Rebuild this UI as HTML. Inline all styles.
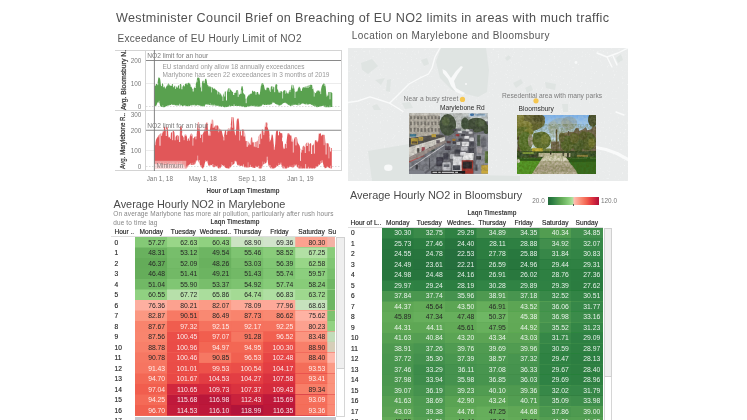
<!DOCTYPE html>
<html><head><meta charset="utf-8"><title>Westminister Council Brief</title>
<style>
html,body{margin:0;padding:0;background:#fff;}
body{width:747px;height:420px;overflow:hidden;position:relative;font-family:"Liberation Sans",sans-serif;}
#root{position:absolute;left:0;top:0;width:747px;height:420px;overflow:hidden;will-change:transform;}
.c{position:absolute;text-align:right;font-size:6.5px;box-sizing:border-box;padding-right:2.3px;white-space:nowrap;overflow:hidden;}
svg{position:absolute;overflow:visible;}
</style></head><body><div id="root">
<div style="position:absolute;top:11px;height:14px;font-size:12.6px;line-height:14px;color:#505050;white-space:nowrap;letter-spacing:0.35px;left:116.00px;">Westminister Council Brief on Breaching of EU NO2 limits in areas with much traffic</div>
<div style="position:absolute;top:33px;height:11px;font-size:10px;line-height:11px;color:#555;white-space:nowrap;letter-spacing:0.32px;left:117.40px;">Exceedance of EU Hourly Limit of NO2</div>
<div style="position:absolute;top:30px;height:11px;font-size:10px;line-height:11px;color:#555;white-space:nowrap;letter-spacing:0.44px;left:351.80px;">Location on Marylebone and Bloomsbury</div>
<svg width="747" height="420" viewBox="0 0 747 420" style="left:0;top:0;">
<g stroke="#d4d4d4" stroke-width="1" fill="none">
<line x1="115" y1="50.5" x2="341" y2="50.5"/>
<line x1="115" y1="110.5" x2="341" y2="110.5"/>
<line x1="115" y1="170.5" x2="341" y2="170.5"/>
<line x1="145.5" y1="50" x2="145.5" y2="171"/>
<line x1="341.5" y1="50" x2="341.5" y2="171"/>
</g>
<g stroke="#ececec" stroke-width="1">
<line x1="146" y1="83.5" x2="341" y2="83.5"/>
<line x1="146" y1="150.5" x2="341" y2="150.5"/>
</g>
<g stroke="#dcdcdc" stroke-width="1" stroke-dasharray="1.5,1.5">
<line x1="146" y1="106.5" x2="341" y2="106.5"/>
<line x1="146" y1="166.5" x2="341" y2="166.5"/>
</g>
<polygon points="154.4,86.5 154.9,85.7 155.4,84.8 155.9,84.1 156.4,84.1 156.9,84.1 157.4,84.5 157.9,80.4 158.4,77.4 158.9,77.4 159.4,77.4 159.9,77.8 160.4,80.5 160.9,85.0 161.4,84.2 161.9,83.4 162.4,83.4 162.9,83.4 163.4,84.4 163.9,85.4 164.4,86.4 164.9,87.4 165.4,87.4 165.9,87.4 166.4,86.4 166.9,85.4 167.4,84.4 167.9,83.4 168.4,83.4 168.9,83.4 169.4,84.2 169.9,85.1 170.4,85.9 170.9,85.4 171.4,84.7 171.9,84.1 172.4,84.1 172.9,84.1 173.4,85.6 173.9,86.7 174.4,85.7 174.9,85.7 175.4,85.7 175.9,85.8 176.4,86.5 177.0,87.2 177.5,86.8 178.0,86.1 178.5,85.6 179.0,85.1 179.5,84.6 180.0,84.1 180.5,84.1 181.0,84.1 181.5,85.5 182.0,87.0 182.5,86.5 183.0,85.9 183.5,85.3 184.0,84.7 184.5,84.2 185.0,84.0 185.5,83.8 186.0,83.6 186.5,83.5 187.0,83.3 187.5,83.1 188.0,83.0 188.5,82.8 189.0,82.8 189.5,82.8 190.0,83.4 190.5,84.6 191.0,85.8 191.5,86.9 192.0,88.0 192.5,89.0 193.0,89.1 193.5,88.6 194.0,87.9 194.5,87.2 195.0,86.6 195.5,85.5 196.0,83.4 196.5,81.2 197.0,79.0 197.5,77.4 198.0,77.4 198.5,77.4 199.0,77.7 199.5,77.9 200.0,81.7 200.5,88.1 201.0,87.0 201.5,85.6 202.0,83.3 202.5,81.0 203.0,80.7 203.5,80.7 204.0,80.7 204.5,81.6 205.0,79.6 205.5,78.8 206.0,78.8 206.5,78.8 207.0,82.4 207.5,84.9 208.0,85.2 208.5,85.6 209.0,86.0 209.5,86.2 210.0,86.4 210.5,86.5 211.0,86.7 211.5,86.9 212.0,87.2 212.5,87.5 213.0,87.7 213.5,88.0 214.0,88.2 214.5,88.5 215.0,88.7 215.5,89.2 216.0,89.7 216.5,90.2 217.0,90.7 217.5,91.0 218.0,91.4 218.5,91.7 219.0,92.0 219.5,92.5 220.0,93.0 220.5,93.5 221.0,94.0 221.6,95.5 222.1,97.3 222.6,96.3 223.1,95.1 223.6,93.9 224.1,92.7 224.6,91.4 225.1,91.4 225.6,91.4 226.1,91.6 226.6,93.3 227.1,92.1 227.6,90.3 228.1,88.4 228.6,88.3 229.1,88.3 229.6,88.3 230.1,88.5 230.6,88.9 231.1,89.9 231.6,90.9 232.1,91.6 232.6,91.9 233.1,92.2 233.6,92.6 234.1,92.8 234.6,93.0 235.1,93.0 235.6,92.0 236.1,91.0 236.6,90.0 237.1,90.0 237.6,90.0 238.1,90.4 238.6,92.6 239.1,94.8 239.6,94.5 240.1,94.2 240.6,91.8 241.1,88.8 241.6,86.3 242.1,86.3 242.6,86.3 243.1,89.3 243.6,92.3 244.1,94.2 244.6,94.4 245.1,94.6 245.6,98.8 246.1,98.8 246.6,98.6 247.1,97.6 247.6,96.6 248.1,95.6 248.6,94.7 249.1,94.6 249.6,94.4 250.1,94.2 250.6,93.9 251.1,92.6 251.6,91.4 252.1,90.8 252.6,90.8 253.1,90.8 253.6,91.0 254.1,91.2 254.6,91.3 255.1,91.6 255.6,91.9 256.1,92.3 256.6,92.4 257.1,92.1 257.6,92.1 258.1,92.1 258.6,93.3 259.1,94.8 259.6,94.5 260.1,92.1 260.6,88.1 261.1,84.1 261.6,83.2 262.1,82.9 262.6,82.9 263.1,82.9 263.6,83.1 264.1,85.9 264.6,88.6 265.1,90.2 265.7,89.7 266.2,88.5 266.7,87.4 267.2,87.4 267.7,87.4 268.2,87.4 268.7,87.4 269.2,88.6 269.7,91.1 270.2,89.2 270.7,86.7 271.2,86.5 271.7,86.2 272.2,86.2 272.7,86.2 273.2,86.4 273.7,87.2 274.2,87.6 274.7,87.2 275.2,85.7 275.7,84.2 276.2,84.2 276.7,84.2 277.2,84.7 277.7,87.7 278.2,90.7 278.7,92.4 279.2,93.1 279.7,91.6 280.2,91.0 280.7,91.0 281.2,91.0 281.7,91.5 282.2,92.0 282.7,92.0 283.2,91.3 283.7,90.5 284.2,90.2 284.7,90.2 285.2,90.2 285.7,90.4 286.2,90.7 286.7,91.5 287.2,92.5 287.7,93.5 288.2,94.0 288.7,92.3 289.2,90.6 289.7,90.1 290.2,90.1 290.7,89.9 291.2,87.1 291.7,84.8 292.2,84.8 292.7,84.8 293.2,85.1 293.7,85.5 294.2,88.0 294.7,90.5 295.2,91.5 295.7,92.3 296.2,92.0 296.7,91.2 297.2,90.3 297.7,89.2 298.2,88.0 298.7,86.8 299.2,86.8 299.7,86.8 300.2,88.0 300.7,89.3 301.2,90.2 301.7,89.9 302.2,88.7 302.7,87.4 303.2,87.2 303.7,87.1 304.2,86.9 304.7,86.7 305.2,86.6 305.7,86.4 306.2,86.2 306.7,86.1 307.2,85.9 307.7,85.7 308.2,85.6 308.7,85.4 309.2,85.1 309.7,84.9 310.3,84.8 310.8,84.8 311.3,84.8 311.8,85.1 312.3,85.3 312.8,86.8 313.3,89.1 313.8,91.3 314.3,91.9 314.8,92.4 315.3,92.9 315.8,93.3 316.3,92.1 316.8,90.8 317.3,90.5 317.8,90.3 318.3,90.3 318.8,90.3 319.3,90.5 319.8,92.0 320.3,91.7 320.8,90.2 321.3,88.2 321.8,86.2 322.3,84.6 322.8,84.1 323.3,83.6 323.8,83.6 324.3,83.6 324.8,83.8 325.3,84.4 325.8,87.7 326.3,94.1 326.8,97.1 327.3,96.0 327.8,93.8 328.3,92.1 328.8,92.1 329.3,92.1 329.8,92.1 330.3,92.1 330.8,92.1 331.3,92.2 331.8,92.7 332.3,93.2 332.3,106.8 331.8,106.9 331.3,107.0 330.8,107.1 330.3,107.2 329.8,107.3 329.3,107.3 328.8,107.3 328.3,107.3 327.8,107.3 327.3,107.3 326.8,107.3 326.3,107.3 325.8,107.3 325.3,107.3 324.8,107.3 324.3,106.6 323.8,106.0 323.3,105.8 322.8,105.9 322.3,106.0 321.8,106.1 321.3,106.2 320.8,106.3 320.3,106.4 319.8,106.6 319.3,106.8 318.8,107.0 318.3,107.1 317.8,107.3 317.3,107.3 316.8,107.3 316.3,107.1 315.8,106.9 315.3,106.7 314.8,106.4 314.3,106.2 313.8,106.0 313.3,105.8 312.8,105.6 312.3,105.3 311.8,105.0 311.3,104.7 310.8,104.4 310.3,104.1 309.7,104.2 309.2,104.3 308.7,104.4 308.2,104.4 307.7,104.5 307.2,104.6 306.7,104.6 306.2,104.6 305.7,104.5 305.2,104.4 304.7,104.2 304.2,104.0 303.7,103.9 303.2,103.7 302.7,103.5 302.2,103.7 301.7,104.0 301.2,104.2 300.7,104.5 300.2,104.7 299.7,105.0 299.2,105.2 298.7,105.3 298.2,105.3 297.7,105.3 297.2,105.2 296.7,105.1 296.2,105.0 295.7,104.9 295.2,104.8 294.7,104.8 294.2,104.9 293.7,105.1 293.2,105.2 292.7,105.4 292.2,105.6 291.7,105.7 291.2,105.9 290.7,105.9 290.2,105.9 289.7,105.8 289.2,105.4 288.7,105.1 288.2,104.8 287.7,104.4 287.2,104.1 286.7,103.8 286.2,103.4 285.7,103.2 285.2,103.1 284.7,103.0 284.2,102.8 283.7,103.1 283.2,103.5 282.7,103.8 282.2,104.2 281.7,104.6 281.2,104.9 280.7,105.3 280.2,105.5 279.7,105.5 279.2,105.5 278.7,105.4 278.2,105.2 277.7,105.0 277.2,104.8 276.7,104.7 276.2,104.3 275.7,104.0 275.2,103.7 274.7,103.3 274.2,103.0 273.7,102.7 273.2,102.4 272.7,102.9 272.2,103.4 271.7,103.9 271.2,104.4 270.7,104.7 270.2,104.7 269.7,104.8 269.2,104.8 268.7,104.9 268.2,104.9 267.7,105.0 267.2,105.0 266.7,105.0 266.2,105.0 265.7,105.0 265.1,105.0 264.6,104.9 264.1,104.9 263.6,104.8 263.1,104.8 262.6,104.9 262.1,105.3 261.6,105.7 261.1,106.1 260.6,106.6 260.1,106.9 259.6,106.9 259.1,106.9 258.6,106.8 258.1,106.8 257.6,106.7 257.1,106.6 256.6,106.6 256.1,106.5 255.6,106.4 255.1,106.4 254.6,106.3 254.1,106.3 253.6,106.2 253.1,106.2 252.6,106.1 252.1,106.1 251.6,106.1 251.1,106.2 250.6,106.2 250.1,106.3 249.6,106.4 249.1,106.5 248.6,106.6 248.1,106.7 247.6,106.8 247.1,106.9 246.6,107.0 246.1,107.2 245.6,107.3 245.1,107.3 244.6,107.3 244.1,106.9 243.6,106.8 243.1,106.7 242.6,106.6 242.1,106.6 241.6,106.5 241.1,106.4 240.6,106.3 240.1,106.3 239.6,106.2 239.1,106.1 238.6,106.0 238.1,106.0 237.6,106.0 237.1,106.0 236.6,106.0 236.1,106.0 235.6,106.0 235.1,106.0 234.6,106.0 234.1,106.0 233.6,106.0 233.1,106.0 232.6,106.0 232.1,106.0 231.6,106.1 231.1,106.2 230.6,106.3 230.1,106.4 229.6,106.5 229.1,106.5 228.6,106.6 228.1,106.8 227.6,106.9 227.1,107.0 226.6,107.1 226.1,107.3 225.6,107.3 225.1,107.3 224.6,107.3 224.1,107.2 223.6,107.1 223.1,107.0 222.6,106.9 222.1,106.8 221.6,106.7 221.0,106.7 220.5,106.6 220.0,106.5 219.5,106.4 219.0,106.3 218.5,106.2 218.0,106.1 217.5,106.0 217.0,105.9 216.5,105.8 216.0,105.7 215.5,105.6 215.0,105.5 214.5,105.5 214.0,105.5 213.5,105.4 213.0,105.4 212.5,105.4 212.0,105.3 211.5,105.3 211.0,105.2 210.5,105.2 210.0,105.1 209.5,105.0 209.0,104.9 208.5,104.8 208.0,104.7 207.5,104.7 207.0,104.5 206.5,104.4 206.0,104.3 205.5,104.4 205.0,105.4 204.5,106.4 204.0,106.5 203.5,106.5 203.0,106.5 202.5,106.4 202.0,106.3 201.5,106.2 201.0,106.0 200.5,105.9 200.0,105.7 199.5,105.5 199.0,105.4 198.5,105.2 198.0,105.2 197.5,105.3 197.0,105.4 196.5,105.5 196.0,105.5 195.5,105.5 195.0,105.5 194.5,105.4 194.0,105.3 193.5,105.2 193.0,105.2 192.5,105.3 192.0,105.4 191.5,105.5 191.0,105.6 190.5,105.7 190.0,105.9 189.5,106.0 189.0,106.2 188.5,106.3 188.0,106.3 187.5,106.3 187.0,106.3 186.5,106.1 186.0,106.0 185.5,105.8 185.0,105.7 184.5,105.8 184.0,105.8 183.5,105.9 183.0,106.0 182.5,106.0 182.0,106.0 181.5,105.8 181.0,105.7 180.5,105.6 180.0,105.5 179.5,105.4 179.0,105.4 178.5,105.5 178.0,105.5 177.5,105.5 177.0,105.5 176.4,105.5 175.9,105.4 175.4,105.3 174.9,105.2 174.4,105.1 173.9,105.0 173.4,105.0 172.9,104.9 172.4,104.8 171.9,104.7 171.4,104.8 170.9,105.0 170.4,105.1 169.9,105.2 169.4,105.3 168.9,105.5 168.4,105.6 167.9,105.7 167.4,105.8 166.9,106.0 166.4,106.2 165.9,106.5 165.4,106.7 164.9,107.0 164.4,107.2 163.9,107.2 163.4,107.2 162.9,107.2 162.4,107.1 161.9,107.0 161.4,106.9 160.9,106.7 160.4,106.2 159.9,104.7 159.4,103.2 158.9,102.6 158.4,102.6 157.9,102.6 157.4,103.0 156.9,104.2 156.4,105.5 155.9,106.0 155.4,106.0 154.9,106.0 154.4,106.0" fill="#59a14f"/><g stroke="#fff"><line x1="155.4" y1="83.3" x2="155.4" y2="85.8" stroke-width="0.93" stroke-opacity="0.72"/><line x1="157.7" y1="83.0" x2="157.7" y2="85.2" stroke-width="0.85" stroke-opacity="0.71"/><line x1="159.9" y1="75.9" x2="159.9" y2="78.2" stroke-width="0.81" stroke-opacity="0.95"/><line x1="161.5" y1="82.7" x2="161.5" y2="86.1" stroke-width="1.07" stroke-opacity="0.87"/><line x1="163.6" y1="82.9" x2="163.6" y2="87.2" stroke-width="1.03" stroke-opacity="0.79"/><line x1="165.4" y1="85.9" x2="165.4" y2="88.6" stroke-width="1.01" stroke-opacity="0.75"/><line x1="167.7" y1="82.9" x2="167.7" y2="85.7" stroke-width="0.87" stroke-opacity="0.72"/><line x1="169.3" y1="81.9" x2="169.3" y2="85.4" stroke-width="0.81" stroke-opacity="0.79"/><line x1="171.7" y1="83.2" x2="171.7" y2="85.9" stroke-width="1.00" stroke-opacity="0.91"/><line x1="173.6" y1="84.1" x2="173.6" y2="87.2" stroke-width="1.04" stroke-opacity="0.92"/><line x1="175.5" y1="84.2" x2="175.5" y2="88.9" stroke-width="0.81" stroke-opacity="0.93"/><line x1="177.2" y1="85.7" x2="177.2" y2="87.8" stroke-width="0.93" stroke-opacity="0.93"/><line x1="179.6" y1="83.1" x2="179.6" y2="88.6" stroke-width="0.95" stroke-opacity="0.88"/><line x1="181.9" y1="85.5" x2="181.9" y2="89.3" stroke-width="1.07" stroke-opacity="0.84"/><line x1="184.4" y1="82.7" x2="184.4" y2="86.3" stroke-width="0.92" stroke-opacity="1.00"/><line x1="187.2" y1="81.8" x2="187.2" y2="84.7" stroke-width="0.93" stroke-opacity="0.71"/><line x1="189.4" y1="81.3" x2="189.4" y2="83.6" stroke-width="0.63" stroke-opacity="0.93"/><line x1="191.1" y1="84.3" x2="191.1" y2="87.1" stroke-width="1.04" stroke-opacity="0.72"/><line x1="193.2" y1="87.6" x2="193.2" y2="91.5" stroke-width="1.01" stroke-opacity="0.96"/><line x1="195.2" y1="85.1" x2="195.2" y2="87.9" stroke-width="1.04" stroke-opacity="0.99"/><line x1="196.9" y1="79.7" x2="196.9" y2="82.3" stroke-width="0.72" stroke-opacity="0.85"/><line x1="199.3" y1="76.2" x2="199.3" y2="78.3" stroke-width="0.81" stroke-opacity="0.81"/><line x1="201.6" y1="84.1" x2="201.6" y2="91.4" stroke-width="0.86" stroke-opacity="0.89"/><line x1="204.1" y1="79.2" x2="204.1" y2="83.1" stroke-width="0.99" stroke-opacity="0.96"/><line x1="206.8" y1="77.3" x2="206.8" y2="80.2" stroke-width="0.65" stroke-opacity="0.89"/><line x1="208.4" y1="84.1" x2="208.4" y2="86.6" stroke-width="0.68" stroke-opacity="0.80"/><line x1="210.0" y1="84.9" x2="210.0" y2="87.3" stroke-width="0.65" stroke-opacity="0.81"/><line x1="211.5" y1="85.4" x2="211.5" y2="92.4" stroke-width="0.67" stroke-opacity="0.78"/><line x1="213.6" y1="86.5" x2="213.6" y2="88.8" stroke-width="1.02" stroke-opacity="1.00"/><line x1="215.8" y1="87.7" x2="215.8" y2="89.9" stroke-width="0.65" stroke-opacity="0.80"/><line x1="217.7" y1="89.5" x2="217.7" y2="94.4" stroke-width="0.61" stroke-opacity="0.99"/><line x1="219.9" y1="91.5" x2="219.9" y2="94.7" stroke-width="0.61" stroke-opacity="0.86"/><line x1="222.9" y1="93.6" x2="222.9" y2="101.0" stroke-width="0.73" stroke-opacity="0.81"/><line x1="224.7" y1="89.9" x2="224.7" y2="96.5" stroke-width="0.99" stroke-opacity="0.80"/><line x1="226.5" y1="91.8" x2="226.5" y2="100.5" stroke-width="1.03" stroke-opacity="0.94"/><line x1="229.2" y1="86.8" x2="229.2" y2="91.9" stroke-width="0.86" stroke-opacity="0.81"/><line x1="230.8" y1="87.4" x2="230.8" y2="90.0" stroke-width="0.73" stroke-opacity="0.91"/><line x1="233.7" y1="91.1" x2="233.7" y2="95.0" stroke-width="1.09" stroke-opacity="0.99"/><line x1="235.8" y1="90.5" x2="235.8" y2="93.0" stroke-width="0.70" stroke-opacity="0.76"/><line x1="238.2" y1="88.9" x2="238.2" y2="96.9" stroke-width="0.84" stroke-opacity="0.90"/><line x1="240.9" y1="90.3" x2="240.9" y2="93.7" stroke-width="1.05" stroke-opacity="0.93"/><line x1="243.5" y1="90.8" x2="243.5" y2="93.3" stroke-width="0.99" stroke-opacity="0.80"/><line x1="246.2" y1="97.3" x2="246.2" y2="103.2" stroke-width="0.80" stroke-opacity="0.98"/><line x1="248.8" y1="93.2" x2="248.8" y2="95.6" stroke-width="0.68" stroke-opacity="0.97"/><line x1="251.5" y1="89.9" x2="251.5" y2="93.6" stroke-width="1.09" stroke-opacity="0.90"/><line x1="253.5" y1="89.5" x2="253.5" y2="91.9" stroke-width="0.61" stroke-opacity="0.99"/><line x1="256.0" y1="90.8" x2="256.0" y2="94.7" stroke-width="0.82" stroke-opacity="0.96"/><line x1="258.7" y1="91.8" x2="258.7" y2="94.4" stroke-width="0.75" stroke-opacity="0.77"/><line x1="261.1" y1="82.6" x2="261.1" y2="85.6" stroke-width="0.67" stroke-opacity="0.97"/><line x1="263.2" y1="81.4" x2="263.2" y2="84.7" stroke-width="1.05" stroke-opacity="0.83"/><line x1="266.0" y1="87.0" x2="266.0" y2="90.2" stroke-width="0.86" stroke-opacity="0.71"/><line x1="268.2" y1="85.9" x2="268.2" y2="88.0" stroke-width="1.00" stroke-opacity="0.75"/><line x1="270.4" y1="85.2" x2="270.4" y2="91.9" stroke-width="0.76" stroke-opacity="0.86"/><line x1="272.7" y1="84.7" x2="272.7" y2="89.3" stroke-width="0.88" stroke-opacity="0.77"/><line x1="274.7" y1="85.7" x2="274.7" y2="92.2" stroke-width="0.88" stroke-opacity="0.93"/><line x1="277.5" y1="86.2" x2="277.5" y2="89.5" stroke-width="0.85" stroke-opacity="0.85"/><line x1="280.1" y1="89.5" x2="280.1" y2="92.6" stroke-width="0.84" stroke-opacity="0.98"/><line x1="282.6" y1="90.5" x2="282.6" y2="98.5" stroke-width="0.73" stroke-opacity="0.87"/><line x1="285.5" y1="88.9" x2="285.5" y2="93.7" stroke-width="0.66" stroke-opacity="0.83"/><line x1="287.1" y1="91.0" x2="287.1" y2="93.2" stroke-width="0.93" stroke-opacity="0.94"/><line x1="290.0" y1="88.6" x2="290.0" y2="92.1" stroke-width="0.93" stroke-opacity="0.74"/><line x1="292.8" y1="83.3" x2="292.8" y2="88.4" stroke-width="1.08" stroke-opacity="0.82"/><line x1="295.0" y1="90.0" x2="295.0" y2="98.0" stroke-width="0.68" stroke-opacity="0.83"/><line x1="297.3" y1="88.8" x2="297.3" y2="91.3" stroke-width="0.76" stroke-opacity="0.92"/><line x1="298.8" y1="85.3" x2="298.8" y2="88.2" stroke-width="0.61" stroke-opacity="0.80"/><line x1="301.3" y1="88.7" x2="301.3" y2="90.9" stroke-width="1.09" stroke-opacity="0.94"/><line x1="304.2" y1="85.4" x2="304.2" y2="88.0" stroke-width="0.62" stroke-opacity="0.93"/><line x1="306.1" y1="84.7" x2="306.1" y2="87.7" stroke-width="1.06" stroke-opacity="0.95"/><line x1="308.0" y1="84.1" x2="308.0" y2="88.0" stroke-width="0.89" stroke-opacity="0.91"/><line x1="309.7" y1="83.4" x2="309.7" y2="86.9" stroke-width="0.81" stroke-opacity="0.72"/><line x1="312.6" y1="85.3" x2="312.6" y2="89.0" stroke-width="0.64" stroke-opacity="0.96"/><line x1="314.2" y1="90.4" x2="314.2" y2="96.6" stroke-width="0.77" stroke-opacity="0.87"/><line x1="317.1" y1="89.0" x2="317.1" y2="91.4" stroke-width="0.86" stroke-opacity="0.77"/><line x1="318.7" y1="88.8" x2="318.7" y2="91.0" stroke-width="0.70" stroke-opacity="0.79"/><line x1="320.7" y1="88.7" x2="320.7" y2="94.1" stroke-width="0.85" stroke-opacity="0.75"/><line x1="322.7" y1="82.6" x2="322.7" y2="85.2" stroke-width="0.61" stroke-opacity="0.92"/><line x1="325.0" y1="82.9" x2="325.0" y2="85.9" stroke-width="1.07" stroke-opacity="0.73"/><line x1="327.8" y1="92.3" x2="327.8" y2="95.4" stroke-width="1.02" stroke-opacity="0.82"/><line x1="330.0" y1="90.6" x2="330.0" y2="99.3" stroke-width="0.77" stroke-opacity="0.95"/><line x1="156.0" y1="107.5" x2="156.0" y2="105.4" stroke-width="0.61" stroke-opacity="0.52"/><line x1="157.6" y1="104.5" x2="157.6" y2="102.2" stroke-width="0.57" stroke-opacity="0.57"/><line x1="159.1" y1="104.1" x2="159.1" y2="100.8" stroke-width="0.75" stroke-opacity="0.61"/><line x1="160.9" y1="108.2" x2="160.9" y2="106.1" stroke-width="0.52" stroke-opacity="0.68"/><line x1="162.8" y1="108.6" x2="162.8" y2="105.2" stroke-width="0.70" stroke-opacity="0.60"/><line x1="165.7" y1="108.2" x2="165.7" y2="106.1" stroke-width="0.45" stroke-opacity="0.65"/><line x1="167.9" y1="107.3" x2="167.9" y2="105.3" stroke-width="0.68" stroke-opacity="0.50"/><line x1="169.7" y1="106.8" x2="169.7" y2="104.7" stroke-width="0.47" stroke-opacity="0.51"/><line x1="171.6" y1="106.3" x2="171.6" y2="104.2" stroke-width="0.69" stroke-opacity="0.80"/><line x1="174.0" y1="106.5" x2="174.0" y2="104.2" stroke-width="0.63" stroke-opacity="0.63"/><line x1="177.0" y1="107.0" x2="177.0" y2="104.8" stroke-width="0.74" stroke-opacity="0.52"/><line x1="179.7" y1="106.9" x2="179.7" y2="103.8" stroke-width="0.78" stroke-opacity="0.82"/><line x1="181.4" y1="107.2" x2="181.4" y2="105.1" stroke-width="0.83" stroke-opacity="0.82"/><line x1="184.1" y1="107.3" x2="184.1" y2="105.0" stroke-width="0.76" stroke-opacity="0.78"/><line x1="185.8" y1="107.3" x2="185.8" y2="105.4" stroke-width="0.61" stroke-opacity="0.54"/><line x1="188.6" y1="107.8" x2="188.6" y2="105.6" stroke-width="0.73" stroke-opacity="0.77"/><line x1="190.8" y1="107.2" x2="190.8" y2="104.9" stroke-width="0.79" stroke-opacity="0.70"/><line x1="193.0" y1="106.7" x2="193.0" y2="104.7" stroke-width="0.78" stroke-opacity="0.60"/><line x1="194.5" y1="106.9" x2="194.5" y2="104.6" stroke-width="0.54" stroke-opacity="0.80"/><line x1="197.5" y1="106.8" x2="197.5" y2="104.8" stroke-width="0.67" stroke-opacity="0.77"/><line x1="200.1" y1="107.2" x2="200.1" y2="105.0" stroke-width="0.48" stroke-opacity="0.56"/><line x1="201.9" y1="107.8" x2="201.9" y2="105.7" stroke-width="0.71" stroke-opacity="0.50"/><line x1="203.4" y1="108.0" x2="203.4" y2="105.8" stroke-width="0.76" stroke-opacity="0.77"/><line x1="205.3" y1="106.9" x2="205.3" y2="104.8" stroke-width="0.66" stroke-opacity="0.55"/><line x1="208.1" y1="106.2" x2="208.1" y2="103.8" stroke-width="0.87" stroke-opacity="0.51"/><line x1="210.3" y1="106.6" x2="210.3" y2="103.1" stroke-width="0.65" stroke-opacity="0.61"/><line x1="212.0" y1="106.8" x2="212.0" y2="104.2" stroke-width="0.71" stroke-opacity="0.56"/><line x1="214.2" y1="107.0" x2="214.2" y2="104.4" stroke-width="0.82" stroke-opacity="0.70"/><line x1="217.1" y1="107.4" x2="217.1" y2="105.4" stroke-width="0.85" stroke-opacity="0.69"/><line x1="218.5" y1="107.7" x2="218.5" y2="105.5" stroke-width="0.65" stroke-opacity="0.62"/><line x1="220.1" y1="108.0" x2="220.1" y2="105.9" stroke-width="0.83" stroke-opacity="0.50"/><line x1="222.7" y1="108.4" x2="222.7" y2="105.9" stroke-width="0.87" stroke-opacity="0.79"/><line x1="225.6" y1="108.8" x2="225.6" y2="106.7" stroke-width="0.63" stroke-opacity="0.90"/><line x1="227.9" y1="108.3" x2="227.9" y2="106.1" stroke-width="0.57" stroke-opacity="0.52"/><line x1="229.5" y1="108.0" x2="229.5" y2="105.3" stroke-width="0.87" stroke-opacity="0.60"/><line x1="231.3" y1="107.7" x2="231.3" y2="105.7" stroke-width="0.62" stroke-opacity="0.88"/><line x1="234.1" y1="107.5" x2="234.1" y2="104.4" stroke-width="0.86" stroke-opacity="0.88"/><line x1="236.4" y1="107.5" x2="236.4" y2="105.6" stroke-width="0.78" stroke-opacity="0.68"/><line x1="239.0" y1="107.6" x2="239.0" y2="105.6" stroke-width="0.47" stroke-opacity="0.87"/><line x1="240.6" y1="107.8" x2="240.6" y2="105.8" stroke-width="0.58" stroke-opacity="0.80"/><line x1="243.6" y1="108.3" x2="243.6" y2="106.1" stroke-width="0.59" stroke-opacity="0.72"/><line x1="245.6" y1="108.8" x2="245.6" y2="106.8" stroke-width="0.54" stroke-opacity="0.86"/><line x1="247.8" y1="108.3" x2="247.8" y2="105.9" stroke-width="0.90" stroke-opacity="0.68"/><line x1="249.4" y1="107.9" x2="249.4" y2="106.0" stroke-width="0.60" stroke-opacity="0.54"/><line x1="251.2" y1="107.7" x2="251.2" y2="105.5" stroke-width="0.85" stroke-opacity="0.80"/><line x1="253.2" y1="107.7" x2="253.2" y2="105.5" stroke-width="0.62" stroke-opacity="0.64"/><line x1="254.7" y1="107.8" x2="254.7" y2="105.4" stroke-width="0.51" stroke-opacity="0.70"/><line x1="257.2" y1="108.1" x2="257.2" y2="105.5" stroke-width="0.57" stroke-opacity="0.60"/><line x1="259.2" y1="108.4" x2="259.2" y2="106.0" stroke-width="0.83" stroke-opacity="0.85"/><line x1="260.6" y1="108.1" x2="260.6" y2="105.8" stroke-width="0.85" stroke-opacity="0.69"/><line x1="263.0" y1="106.3" x2="263.0" y2="104.2" stroke-width="0.87" stroke-opacity="0.83"/><line x1="265.7" y1="106.5" x2="265.7" y2="103.8" stroke-width="0.50" stroke-opacity="0.56"/><line x1="268.0" y1="106.4" x2="268.0" y2="104.0" stroke-width="0.77" stroke-opacity="0.76"/><line x1="270.6" y1="106.2" x2="270.6" y2="104.0" stroke-width="0.47" stroke-opacity="0.81"/><line x1="272.4" y1="104.9" x2="272.4" y2="101.8" stroke-width="0.59" stroke-opacity="0.55"/><line x1="274.2" y1="104.5" x2="274.2" y2="102.2" stroke-width="0.50" stroke-opacity="0.53"/><line x1="276.4" y1="106.2" x2="276.4" y2="104.1" stroke-width="0.55" stroke-opacity="0.74"/><line x1="277.8" y1="106.5" x2="277.8" y2="104.4" stroke-width="0.88" stroke-opacity="0.76"/><line x1="280.6" y1="106.8" x2="280.6" y2="104.8" stroke-width="0.56" stroke-opacity="0.88"/><line x1="283.2" y1="105.0" x2="283.2" y2="103.0" stroke-width="0.67" stroke-opacity="0.77"/><line x1="285.2" y1="104.6" x2="285.2" y2="102.4" stroke-width="0.87" stroke-opacity="0.59"/><line x1="286.7" y1="105.3" x2="286.7" y2="103.2" stroke-width="0.76" stroke-opacity="0.58"/><line x1="289.4" y1="106.9" x2="289.4" y2="104.8" stroke-width="0.54" stroke-opacity="0.89"/><line x1="291.3" y1="107.4" x2="291.3" y2="104.8" stroke-width="0.55" stroke-opacity="0.80"/><line x1="293.1" y1="106.7" x2="293.1" y2="103.8" stroke-width="0.53" stroke-opacity="0.59"/><line x1="295.2" y1="106.3" x2="295.2" y2="104.0" stroke-width="0.52" stroke-opacity="0.66"/><line x1="297.0" y1="106.7" x2="297.0" y2="104.1" stroke-width="0.47" stroke-opacity="0.52"/><line x1="299.0" y1="106.7" x2="299.0" y2="103.4" stroke-width="0.78" stroke-opacity="0.90"/><line x1="301.9" y1="105.5" x2="301.9" y2="103.5" stroke-width="0.87" stroke-opacity="0.80"/><line x1="303.3" y1="105.2" x2="303.3" y2="103.1" stroke-width="0.62" stroke-opacity="0.63"/><line x1="305.0" y1="105.9" x2="305.0" y2="103.8" stroke-width="0.61" stroke-opacity="0.88"/><line x1="306.6" y1="106.1" x2="306.6" y2="103.5" stroke-width="0.61" stroke-opacity="0.83"/><line x1="309.3" y1="105.8" x2="309.3" y2="103.9" stroke-width="0.66" stroke-opacity="0.65"/><line x1="312.2" y1="106.8" x2="312.2" y2="104.7" stroke-width="0.85" stroke-opacity="0.51"/><line x1="314.2" y1="107.7" x2="314.2" y2="104.5" stroke-width="0.47" stroke-opacity="0.51"/><line x1="315.7" y1="108.4" x2="315.7" y2="105.7" stroke-width="0.79" stroke-opacity="0.86"/><line x1="317.7" y1="108.8" x2="317.7" y2="106.4" stroke-width="0.73" stroke-opacity="0.60"/><line x1="320.2" y1="107.9" x2="320.2" y2="105.9" stroke-width="0.45" stroke-opacity="0.80"/><line x1="323.1" y1="107.3" x2="323.1" y2="104.9" stroke-width="0.46" stroke-opacity="0.59"/><line x1="325.2" y1="108.8" x2="325.2" y2="105.4" stroke-width="0.62" stroke-opacity="0.60"/><line x1="327.3" y1="108.8" x2="327.3" y2="106.4" stroke-width="0.53" stroke-opacity="0.82"/><line x1="329.9" y1="108.7" x2="329.9" y2="105.5" stroke-width="0.72" stroke-opacity="0.63"/></g>
<polygon points="154.4,144.7 154.9,143.1 155.4,141.6 155.9,140.0 156.4,138.9 156.9,138.1 157.4,137.2 157.9,136.4 158.4,135.6 158.9,135.1 159.4,134.6 159.9,134.1 160.4,133.6 160.9,133.3 161.4,133.3 161.9,133.3 162.4,133.4 162.9,130.9 163.4,128.4 163.9,126.7 164.4,126.7 164.9,126.7 165.4,129.4 165.9,130.6 166.4,126.7 166.9,126.7 167.4,126.7 167.9,129.9 168.4,134.0 168.9,136.7 169.4,137.7 169.9,136.7 170.4,134.7 170.9,133.1 171.4,132.6 171.9,132.1 172.4,131.6 172.9,131.1 173.4,131.1 173.9,131.1 174.4,132.4 174.9,134.9 175.4,137.4 175.9,136.5 176.4,135.7 177.0,134.9 177.5,134.9 178.0,134.9 178.5,136.1 179.0,136.4 179.5,132.6 180.0,128.9 180.5,125.9 181.0,125.9 181.5,125.9 182.0,129.9 182.5,134.0 183.0,136.3 183.5,137.6 184.0,137.2 184.5,135.7 185.0,134.2 185.5,134.2 186.0,134.2 186.5,135.4 187.0,137.2 187.5,138.9 188.0,139.4 188.5,138.6 189.0,137.8 189.5,136.9 190.0,135.6 190.5,134.4 191.0,133.4 191.5,133.4 192.0,133.4 192.5,135.7 193.0,137.9 193.5,138.5 194.0,137.7 194.5,136.8 195.0,136.5 195.5,136.5 196.0,136.5 196.5,136.3 197.0,130.8 197.5,125.3 198.0,121.9 198.5,121.9 199.0,121.9 199.5,127.6 200.0,133.2 200.5,133.8 201.0,134.4 201.5,135.0 202.0,134.5 202.5,134.0 203.0,133.5 203.5,132.6 204.0,130.9 204.5,129.3 205.0,127.6 205.5,125.4 206.0,122.8 206.5,122.5 207.0,122.5 207.5,122.5 208.0,131.1 208.5,136.3 209.0,134.7 209.5,133.1 210.0,129.4 210.5,125.6 211.0,121.9 211.5,119.5 212.0,119.5 212.5,119.5 213.0,120.1 213.5,120.7 214.0,125.7 214.5,128.0 215.0,125.5 215.5,125.5 216.0,125.5 216.5,125.5 217.0,125.5 217.5,125.5 218.0,125.5 218.5,126.3 219.0,127.8 219.5,129.4 220.0,129.5 220.5,129.5 221.1,129.5 221.6,130.2 222.1,132.5 222.6,134.8 223.1,136.6 223.6,137.6 224.1,135.7 224.6,132.7 225.1,130.3 225.6,130.3 226.1,130.3 226.6,131.8 227.1,132.4 227.6,130.2 228.1,127.9 228.6,127.9 229.1,127.9 229.6,130.4 230.1,131.8 230.6,126.6 231.1,121.4 231.6,117.0 232.1,117.0 232.6,117.0 233.1,117.3 233.6,117.6 234.1,122.9 234.6,130.4 235.1,135.4 235.6,135.0 236.1,130.3 236.6,121.6 237.1,118.5 237.6,118.5 238.1,118.5 238.6,118.5 239.1,122.9 239.6,131.9 240.1,132.0 240.6,130.1 241.1,129.9 241.6,129.7 242.1,129.6 242.6,129.4 243.1,129.4 243.6,129.4 244.1,130.3 244.6,131.9 245.1,133.5 245.6,141.2 246.1,141.0 246.6,141.0 247.1,141.0 247.6,141.2 248.1,141.5 248.6,141.8 249.1,143.3 249.6,144.0 250.1,141.5 250.6,139.0 251.1,137.6 251.6,137.6 252.1,137.6 252.6,139.8 253.1,142.0 253.6,142.5 254.1,142.4 254.6,142.2 255.1,142.1 255.6,141.9 256.1,141.7 256.6,141.5 257.1,141.2 257.6,141.0 258.1,139.1 258.6,137.0 259.1,135.0 259.6,134.6 260.1,134.3 260.6,134.1 261.1,132.1 261.6,129.5 262.1,129.5 262.6,129.5 263.1,129.7 263.6,131.6 264.1,133.4 264.6,129.8 265.1,122.4 265.7,122.4 266.2,122.4 266.7,122.4 267.2,122.4 267.7,126.7 268.2,129.5 268.7,129.9 269.2,131.6 269.7,137.5 270.2,140.5 270.7,140.2 271.2,137.9 271.7,134.5 272.2,134.5 272.7,134.5 273.2,138.5 273.7,143.9 274.2,146.8 274.7,147.8 275.2,143.9 275.7,134.7 276.2,130.1 276.7,130.1 277.2,130.1 277.7,130.1 278.2,132.0 278.7,132.2 279.2,131.5 279.7,131.5 280.2,131.5 280.7,132.4 281.2,133.2 281.7,133.2 282.2,133.2 282.7,138.9 283.2,147.1 283.7,149.5 284.2,145.3 284.7,143.8 285.2,143.8 285.7,143.8 286.2,144.6 286.7,140.3 287.2,136.1 287.7,133.2 288.2,133.2 288.7,133.2 289.2,133.2 289.7,134.0 290.2,135.5 290.7,135.5 291.2,135.5 291.7,135.6 292.2,139.0 292.7,142.0 293.2,141.8 293.7,140.4 294.2,138.9 294.7,137.4 295.2,137.1 295.7,137.1 296.2,137.1 296.7,137.1 297.2,138.7 297.7,141.2 298.2,143.4 298.7,144.2 299.2,144.9 299.7,145.9 300.2,148.7 300.7,151.5 301.2,153.2 301.7,150.3 302.2,147.2 302.7,146.4 303.2,145.7 303.7,145.7 304.2,145.7 304.7,147.2 305.2,146.9 305.7,144.3 306.2,143.1 306.7,142.8 307.2,142.6 307.7,142.6 308.2,142.6 308.7,143.3 309.2,144.1 309.8,143.8 310.3,143.3 310.8,143.3 311.3,143.3 311.8,144.2 312.3,145.2 312.8,145.5 313.3,145.0 313.8,143.7 314.3,142.2 314.8,140.7 315.3,140.2 315.8,140.2 316.3,140.2 316.8,140.2 317.3,141.0 317.8,142.7 318.3,140.1 318.8,133.6 319.3,133.2 319.8,133.2 320.3,133.2 320.8,133.2 321.3,136.6 321.8,134.8 322.3,134.8 322.8,134.8 323.3,134.8 323.8,134.8 324.3,134.8 324.8,135.1 325.3,141.4 325.8,143.3 326.3,143.3 326.8,143.3 327.3,143.3 327.8,143.3 328.3,143.3 328.8,145.0 329.3,146.8 329.8,147.3 330.3,147.5 330.8,147.7 331.3,147.9 331.8,147.9 331.8,168.6 331.3,168.6 330.8,168.6 330.3,168.6 329.8,168.3 329.3,168.0 328.8,167.7 328.3,167.3 327.8,167.0 327.3,167.2 326.8,167.4 326.3,167.7 325.8,167.9 325.3,168.2 324.8,168.2 324.3,168.2 323.8,166.5 323.3,164.5 322.8,162.5 322.3,162.5 321.8,162.7 321.3,162.9 320.8,163.4 320.3,163.9 319.8,164.4 319.3,164.9 318.8,165.4 318.3,165.9 317.8,166.3 317.3,166.6 316.8,167.0 316.3,167.4 315.8,167.8 315.3,168.2 314.8,168.6 314.3,168.6 313.8,168.6 313.3,168.6 312.8,168.6 312.3,168.6 311.8,168.6 311.3,168.6 310.8,168.6 310.3,168.6 309.8,168.6 309.2,168.6 308.7,168.6 308.2,168.6 307.7,168.6 307.2,168.6 306.7,168.6 306.2,168.6 305.7,168.6 305.2,168.6 304.7,168.6 304.2,168.6 303.7,168.6 303.2,168.6 302.7,168.6 302.2,168.6 301.7,168.6 301.2,168.6 300.7,168.6 300.2,168.6 299.7,168.6 299.2,168.6 298.7,168.6 298.2,168.3 297.7,167.6 297.2,166.8 296.7,166.1 296.2,165.3 295.7,165.2 295.2,165.7 294.7,166.2 294.2,166.7 293.7,167.2 293.2,167.4 292.7,167.4 292.2,167.4 291.7,167.3 291.2,167.1 290.7,167.0 290.2,166.9 289.7,167.0 289.2,167.3 288.7,167.5 288.2,167.8 287.7,168.0 287.2,168.3 286.7,168.6 286.2,168.6 285.7,168.6 285.2,168.6 284.7,168.6 284.2,168.6 283.7,168.6 283.2,168.6 282.7,168.6 282.2,167.5 281.7,166.0 281.2,164.5 280.7,164.2 280.2,164.4 279.7,164.7 279.2,164.9 278.7,165.2 278.2,165.6 277.7,166.0 277.2,166.3 276.7,166.7 276.2,167.1 275.7,167.5 275.2,167.8 274.7,168.2 274.2,168.6 273.7,168.6 273.2,168.6 272.7,168.6 272.2,168.6 271.7,168.6 271.2,168.6 270.7,168.6 270.2,168.0 269.7,167.4 269.2,166.7 268.7,166.1 268.2,163.9 267.7,160.9 267.2,159.8 266.7,161.8 266.2,162.9 265.7,163.2 265.1,163.4 264.6,163.7 264.1,163.9 263.6,164.2 263.1,164.8 262.6,166.1 262.1,167.5 261.6,168.6 261.1,168.6 260.6,168.6 260.1,168.6 259.6,168.6 259.1,168.6 258.6,168.5 258.1,167.8 257.6,167.0 257.1,166.5 256.6,166.8 256.1,167.2 255.6,167.6 255.1,168.0 254.6,168.1 254.1,168.1 253.6,168.1 253.1,167.9 252.6,167.6 252.1,167.4 251.6,167.1 251.1,166.9 250.6,166.9 250.1,167.1 249.6,167.2 249.1,167.3 248.6,167.4 248.1,167.5 247.6,167.5 247.1,167.5 246.6,167.5 246.1,167.5 245.6,167.5 245.1,167.5 244.6,167.5 244.1,166.6 243.6,166.5 243.1,166.4 242.6,166.3 242.1,166.2 241.6,166.1 241.1,166.0 240.6,165.9 240.1,165.8 239.6,165.7 239.1,165.6 238.6,165.4 238.1,165.3 237.6,165.2 237.1,164.4 236.6,163.0 236.1,161.7 235.6,160.4 235.1,161.9 234.6,163.4 234.1,163.9 233.6,164.2 233.1,164.5 232.6,164.9 232.1,165.3 231.6,165.9 231.1,166.5 230.6,167.2 230.1,167.8 229.6,168.4 229.1,168.6 228.6,168.6 228.1,168.6 227.6,168.6 227.1,168.5 226.6,168.2 226.1,168.0 225.6,167.7 225.1,167.5 224.6,167.0 224.1,166.5 223.6,166.0 223.1,165.5 222.6,165.0 222.1,165.6 221.6,166.4 221.1,167.1 220.5,167.9 220.0,168.6 219.5,168.6 219.0,168.6 218.5,168.6 218.0,168.1 217.5,167.4 217.0,166.8 216.5,166.2 216.0,165.8 215.5,166.3 215.0,166.8 214.5,167.3 214.0,167.3 213.5,167.3 213.0,167.0 212.5,166.3 212.0,165.6 211.5,165.0 211.0,165.0 210.5,165.4 210.0,165.7 209.5,165.7 209.0,165.7 208.5,165.4 208.0,164.2 207.5,163.1 207.0,161.9 206.5,161.1 206.0,161.4 205.5,161.8 205.0,162.4 204.5,164.7 204.0,166.9 203.5,168.6 203.0,168.6 202.5,168.6 202.0,168.2 201.5,167.4 201.0,166.7 200.5,165.7 200.0,164.7 199.5,163.7 199.0,162.7 198.5,161.8 198.0,161.1 197.5,160.5 197.0,159.8 196.5,161.0 196.0,162.1 195.5,163.3 195.0,164.4 194.5,164.5 194.0,164.6 193.5,164.7 193.0,164.9 192.5,165.0 192.0,165.1 191.5,165.1 191.0,165.1 190.5,164.7 190.0,164.2 189.5,164.5 189.0,165.0 188.5,165.5 188.0,166.1 187.5,167.1 187.0,168.1 186.5,168.6 186.0,168.6 185.5,168.6 185.0,167.9 184.5,166.9 184.0,165.9 183.5,164.9 183.0,164.3 182.5,164.2 182.0,164.0 181.5,163.9 181.0,163.8 180.5,163.7 180.0,163.9 179.5,164.0 179.0,164.1 178.5,164.2 178.0,164.4 177.5,164.4 177.0,164.4 176.4,164.4 175.9,164.4 175.4,164.4 174.9,164.4 174.4,164.4 173.9,164.4 173.4,164.2 172.9,164.1 172.4,164.0 171.9,163.9 171.4,163.7 170.9,163.8 170.4,163.9 169.9,164.1 169.4,164.2 168.9,164.3 168.4,164.4 167.9,164.6 167.4,164.7 166.9,164.8 166.4,164.9 165.9,165.1 165.4,165.1 164.9,165.1 164.4,165.1 163.9,165.0 163.4,164.8 162.9,164.7 162.4,164.6 161.9,164.5 161.4,164.3 160.9,164.2 160.4,164.1 159.9,164.0 159.4,163.8 158.9,163.8 158.4,163.9 157.9,164.1 157.4,164.3 156.9,164.3 156.4,164.3 155.9,164.3 155.4,164.1 154.9,163.9 154.4,163.7" fill="#e15759"/><g stroke="#fff"><line x1="155.4" y1="140.1" x2="155.4" y2="145.2" stroke-width="0.64" stroke-opacity="0.76"/><line x1="158.0" y1="134.9" x2="158.0" y2="137.3" stroke-width="0.62" stroke-opacity="0.87"/><line x1="160.0" y1="132.6" x2="160.0" y2="145.7" stroke-width="1.09" stroke-opacity="0.78"/><line x1="161.6" y1="131.8" x2="161.6" y2="135.8" stroke-width="0.95" stroke-opacity="0.83"/><line x1="163.5" y1="126.9" x2="163.5" y2="131.4" stroke-width="0.94" stroke-opacity="0.92"/><line x1="166.3" y1="129.1" x2="166.3" y2="136.1" stroke-width="1.02" stroke-opacity="0.79"/><line x1="168.6" y1="132.5" x2="168.6" y2="137.4" stroke-width="0.70" stroke-opacity="0.77"/><line x1="170.5" y1="133.2" x2="170.5" y2="138.8" stroke-width="0.89" stroke-opacity="0.80"/><line x1="172.6" y1="130.1" x2="172.6" y2="140.2" stroke-width="0.72" stroke-opacity="0.94"/><line x1="175.1" y1="133.4" x2="175.1" y2="140.3" stroke-width="0.84" stroke-opacity="0.95"/><line x1="177.8" y1="133.4" x2="177.8" y2="139.7" stroke-width="0.75" stroke-opacity="0.74"/><line x1="179.6" y1="131.1" x2="179.6" y2="141.9" stroke-width="1.07" stroke-opacity="0.81"/><line x1="182.4" y1="132.5" x2="182.4" y2="135.6" stroke-width="0.99" stroke-opacity="0.98"/><line x1="184.1" y1="135.7" x2="184.1" y2="140.2" stroke-width="0.71" stroke-opacity="0.81"/><line x1="185.8" y1="132.7" x2="185.8" y2="135.8" stroke-width="0.90" stroke-opacity="0.90"/><line x1="187.6" y1="137.4" x2="187.6" y2="140.8" stroke-width="0.94" stroke-opacity="0.76"/><line x1="189.5" y1="135.4" x2="189.5" y2="140.6" stroke-width="0.87" stroke-opacity="0.72"/><line x1="191.2" y1="131.9" x2="191.2" y2="136.2" stroke-width="0.92" stroke-opacity="0.73"/><line x1="192.9" y1="136.4" x2="192.9" y2="145.7" stroke-width="0.74" stroke-opacity="0.79"/><line x1="195.9" y1="135.0" x2="195.9" y2="139.3" stroke-width="0.78" stroke-opacity="0.82"/><line x1="198.7" y1="120.4" x2="198.7" y2="129.4" stroke-width="0.70" stroke-opacity="0.92"/><line x1="200.5" y1="132.3" x2="200.5" y2="137.9" stroke-width="0.81" stroke-opacity="0.95"/><line x1="202.6" y1="132.5" x2="202.6" y2="142.3" stroke-width="0.68" stroke-opacity="0.70"/><line x1="204.9" y1="126.1" x2="204.9" y2="131.7" stroke-width="0.64" stroke-opacity="0.89"/><line x1="207.0" y1="121.0" x2="207.0" y2="123.7" stroke-width="0.74" stroke-opacity="0.86"/><line x1="209.9" y1="131.6" x2="209.9" y2="135.7" stroke-width="1.00" stroke-opacity="0.99"/><line x1="211.7" y1="118.0" x2="211.7" y2="123.8" stroke-width="1.09" stroke-opacity="0.84"/><line x1="213.2" y1="118.6" x2="213.2" y2="127.8" stroke-width="1.05" stroke-opacity="0.89"/><line x1="216.0" y1="124.0" x2="216.0" y2="129.1" stroke-width="0.71" stroke-opacity="0.82"/><line x1="218.7" y1="124.8" x2="218.7" y2="132.3" stroke-width="0.71" stroke-opacity="0.82"/><line x1="221.0" y1="128.0" x2="221.0" y2="130.6" stroke-width="0.72" stroke-opacity="0.92"/><line x1="223.9" y1="136.1" x2="223.9" y2="140.4" stroke-width="0.98" stroke-opacity="0.71"/><line x1="226.6" y1="130.3" x2="226.6" y2="134.8" stroke-width="0.88" stroke-opacity="0.89"/><line x1="228.6" y1="126.4" x2="228.6" y2="130.8" stroke-width="0.81" stroke-opacity="0.90"/><line x1="230.7" y1="125.1" x2="230.7" y2="127.3" stroke-width="0.91" stroke-opacity="0.85"/><line x1="232.6" y1="115.5" x2="232.6" y2="127.8" stroke-width="0.83" stroke-opacity="0.75"/><line x1="234.8" y1="128.9" x2="234.8" y2="131.5" stroke-width="0.82" stroke-opacity="0.73"/><line x1="237.0" y1="117.0" x2="237.0" y2="119.3" stroke-width="0.92" stroke-opacity="0.72"/><line x1="239.6" y1="130.4" x2="239.6" y2="140.5" stroke-width="0.63" stroke-opacity="0.85"/><line x1="241.6" y1="128.2" x2="241.6" y2="135.4" stroke-width="1.03" stroke-opacity="1.00"/><line x1="244.2" y1="128.8" x2="244.2" y2="136.4" stroke-width="1.09" stroke-opacity="0.85"/><line x1="247.2" y1="139.5" x2="247.2" y2="146.8" stroke-width="0.99" stroke-opacity="0.98"/><line x1="248.8" y1="140.3" x2="248.8" y2="145.3" stroke-width="0.68" stroke-opacity="0.97"/><line x1="250.7" y1="137.5" x2="250.7" y2="144.7" stroke-width="0.85" stroke-opacity="0.98"/><line x1="252.5" y1="138.3" x2="252.5" y2="142.4" stroke-width="0.76" stroke-opacity="0.71"/><line x1="254.3" y1="140.9" x2="254.3" y2="146.6" stroke-width="0.94" stroke-opacity="0.97"/><line x1="256.0" y1="140.2" x2="256.0" y2="147.2" stroke-width="0.87" stroke-opacity="0.89"/><line x1="258.1" y1="137.6" x2="258.1" y2="148.0" stroke-width="0.89" stroke-opacity="0.96"/><line x1="259.7" y1="133.1" x2="259.7" y2="144.2" stroke-width="0.80" stroke-opacity="0.94"/><line x1="261.6" y1="128.0" x2="261.6" y2="138.7" stroke-width="0.78" stroke-opacity="0.93"/><line x1="263.8" y1="130.1" x2="263.8" y2="135.1" stroke-width="0.62" stroke-opacity="0.95"/><line x1="265.7" y1="120.9" x2="265.7" y2="126.8" stroke-width="0.89" stroke-opacity="0.90"/><line x1="267.6" y1="125.2" x2="267.6" y2="127.5" stroke-width="0.67" stroke-opacity="0.88"/><line x1="269.8" y1="136.0" x2="269.8" y2="141.6" stroke-width="0.67" stroke-opacity="0.77"/><line x1="272.3" y1="133.0" x2="272.3" y2="135.1" stroke-width="0.78" stroke-opacity="0.73"/><line x1="274.3" y1="145.3" x2="274.3" y2="149.7" stroke-width="0.89" stroke-opacity="0.76"/><line x1="276.7" y1="128.6" x2="276.7" y2="131.2" stroke-width="1.07" stroke-opacity="0.77"/><line x1="278.5" y1="130.7" x2="278.5" y2="135.3" stroke-width="1.04" stroke-opacity="0.93"/><line x1="280.6" y1="130.9" x2="280.6" y2="133.1" stroke-width="0.92" stroke-opacity="0.87"/><line x1="282.6" y1="137.4" x2="282.6" y2="141.2" stroke-width="1.07" stroke-opacity="0.92"/><line x1="284.5" y1="142.3" x2="284.5" y2="148.7" stroke-width="0.87" stroke-opacity="0.82"/><line x1="286.3" y1="143.1" x2="286.3" y2="148.2" stroke-width="0.61" stroke-opacity="0.87"/><line x1="289.2" y1="131.7" x2="289.2" y2="134.6" stroke-width="0.90" stroke-opacity="0.85"/><line x1="291.7" y1="134.1" x2="291.7" y2="141.5" stroke-width="0.75" stroke-opacity="0.79"/><line x1="293.3" y1="140.3" x2="293.3" y2="152.6" stroke-width="0.96" stroke-opacity="0.70"/><line x1="296.0" y1="135.6" x2="296.0" y2="145.4" stroke-width="0.97" stroke-opacity="0.84"/><line x1="297.9" y1="139.7" x2="297.9" y2="142.7" stroke-width="0.62" stroke-opacity="0.80"/><line x1="300.5" y1="150.0" x2="300.5" y2="160.9" stroke-width="0.96" stroke-opacity="0.78"/><line x1="302.8" y1="144.9" x2="302.8" y2="150.1" stroke-width="0.86" stroke-opacity="0.78"/><line x1="305.3" y1="145.4" x2="305.3" y2="153.1" stroke-width="1.04" stroke-opacity="0.70"/><line x1="307.2" y1="141.1" x2="307.2" y2="146.1" stroke-width="1.07" stroke-opacity="0.92"/><line x1="309.2" y1="142.6" x2="309.2" y2="151.3" stroke-width="0.72" stroke-opacity="0.97"/><line x1="311.6" y1="142.7" x2="311.6" y2="154.1" stroke-width="1.09" stroke-opacity="0.84"/><line x1="314.4" y1="140.7" x2="314.4" y2="153.6" stroke-width="0.82" stroke-opacity="0.92"/><line x1="316.7" y1="138.7" x2="316.7" y2="141.6" stroke-width="0.91" stroke-opacity="0.72"/><line x1="319.6" y1="131.7" x2="319.6" y2="133.9" stroke-width="0.65" stroke-opacity="0.98"/><line x1="321.6" y1="133.3" x2="321.6" y2="135.5" stroke-width="0.62" stroke-opacity="0.91"/><line x1="324.1" y1="133.3" x2="324.1" y2="145.2" stroke-width="0.63" stroke-opacity="0.88"/><line x1="326.1" y1="141.8" x2="326.1" y2="154.4" stroke-width="1.05" stroke-opacity="0.72"/><line x1="328.9" y1="145.3" x2="328.9" y2="158.4" stroke-width="0.65" stroke-opacity="0.76"/><line x1="330.6" y1="146.2" x2="330.6" y2="151.6" stroke-width="1.01" stroke-opacity="0.89"/><line x1="156.0" y1="165.8" x2="156.0" y2="163.2" stroke-width="0.49" stroke-opacity="0.54"/><line x1="158.6" y1="165.4" x2="158.6" y2="162.8" stroke-width="0.64" stroke-opacity="0.51"/><line x1="160.4" y1="165.6" x2="160.4" y2="162.1" stroke-width="0.62" stroke-opacity="0.63"/><line x1="163.4" y1="166.2" x2="163.4" y2="162.4" stroke-width="0.73" stroke-opacity="0.51"/><line x1="165.4" y1="166.6" x2="165.4" y2="163.0" stroke-width="0.61" stroke-opacity="0.78"/><line x1="167.7" y1="166.2" x2="167.7" y2="162.4" stroke-width="0.49" stroke-opacity="0.83"/><line x1="169.4" y1="165.8" x2="169.4" y2="163.5" stroke-width="0.79" stroke-opacity="0.89"/><line x1="170.8" y1="165.4" x2="170.8" y2="162.4" stroke-width="0.81" stroke-opacity="0.57"/><line x1="173.0" y1="165.6" x2="173.0" y2="161.9" stroke-width="0.57" stroke-opacity="0.88"/><line x1="174.8" y1="165.9" x2="174.8" y2="162.4" stroke-width="0.67" stroke-opacity="0.54"/><line x1="177.2" y1="165.9" x2="177.2" y2="162.2" stroke-width="0.76" stroke-opacity="0.81"/><line x1="179.6" y1="165.5" x2="179.6" y2="162.7" stroke-width="0.63" stroke-opacity="0.86"/><line x1="181.2" y1="165.3" x2="181.2" y2="161.1" stroke-width="0.54" stroke-opacity="0.61"/><line x1="184.0" y1="167.4" x2="184.0" y2="164.7" stroke-width="0.85" stroke-opacity="0.59"/><line x1="186.2" y1="170.1" x2="186.2" y2="166.5" stroke-width="0.79" stroke-opacity="0.76"/><line x1="188.1" y1="167.6" x2="188.1" y2="165.4" stroke-width="0.83" stroke-opacity="0.76"/><line x1="190.7" y1="166.2" x2="190.7" y2="163.3" stroke-width="0.80" stroke-opacity="0.73"/><line x1="192.3" y1="166.6" x2="192.3" y2="162.8" stroke-width="0.56" stroke-opacity="0.58"/><line x1="194.2" y1="166.1" x2="194.2" y2="162.4" stroke-width="0.52" stroke-opacity="0.56"/><line x1="196.0" y1="163.6" x2="196.0" y2="160.6" stroke-width="0.52" stroke-opacity="0.63"/><line x1="197.7" y1="162.0" x2="197.7" y2="155.6" stroke-width="0.50" stroke-opacity="0.88"/><line x1="199.2" y1="164.2" x2="199.2" y2="160.1" stroke-width="0.81" stroke-opacity="0.79"/><line x1="201.3" y1="168.2" x2="201.3" y2="164.9" stroke-width="0.50" stroke-opacity="0.58"/><line x1="203.4" y1="170.1" x2="203.4" y2="167.3" stroke-width="0.81" stroke-opacity="0.78"/><line x1="205.6" y1="163.3" x2="205.6" y2="160.3" stroke-width="0.51" stroke-opacity="0.74"/><line x1="207.6" y1="164.6" x2="207.6" y2="160.7" stroke-width="0.64" stroke-opacity="0.73"/><line x1="210.2" y1="167.2" x2="210.2" y2="164.8" stroke-width="0.77" stroke-opacity="0.85"/><line x1="212.8" y1="167.8" x2="212.8" y2="164.0" stroke-width="0.76" stroke-opacity="0.76"/><line x1="215.0" y1="168.3" x2="215.0" y2="165.0" stroke-width="0.49" stroke-opacity="0.67"/><line x1="217.6" y1="168.9" x2="217.6" y2="165.6" stroke-width="0.56" stroke-opacity="0.67"/><line x1="219.8" y1="170.1" x2="219.8" y2="167.3" stroke-width="0.75" stroke-opacity="0.87"/><line x1="221.4" y1="167.9" x2="221.4" y2="164.3" stroke-width="0.62" stroke-opacity="0.70"/><line x1="224.4" y1="168.5" x2="224.4" y2="165.4" stroke-width="0.52" stroke-opacity="0.81"/><line x1="227.3" y1="170.0" x2="227.3" y2="167.9" stroke-width="0.71" stroke-opacity="0.72"/><line x1="229.9" y1="169.9" x2="229.9" y2="166.6" stroke-width="0.82" stroke-opacity="0.71"/><line x1="231.9" y1="166.8" x2="231.9" y2="162.0" stroke-width="0.76" stroke-opacity="0.66"/><line x1="234.5" y1="164.9" x2="234.5" y2="160.8" stroke-width="0.61" stroke-opacity="0.52"/><line x1="236.4" y1="163.2" x2="236.4" y2="161.3" stroke-width="0.64" stroke-opacity="0.67"/><line x1="238.9" y1="166.9" x2="238.9" y2="164.5" stroke-width="0.55" stroke-opacity="0.80"/><line x1="241.8" y1="167.6" x2="241.8" y2="165.2" stroke-width="0.81" stroke-opacity="0.66"/><line x1="243.5" y1="168.0" x2="243.5" y2="164.4" stroke-width="0.81" stroke-opacity="0.75"/><line x1="245.7" y1="169.0" x2="245.7" y2="166.6" stroke-width="0.88" stroke-opacity="0.64"/><line x1="248.1" y1="169.0" x2="248.1" y2="162.3" stroke-width="0.66" stroke-opacity="0.62"/><line x1="250.4" y1="168.6" x2="250.4" y2="164.8" stroke-width="0.61" stroke-opacity="0.84"/><line x1="252.2" y1="168.9" x2="252.2" y2="166.4" stroke-width="0.64" stroke-opacity="0.57"/><line x1="253.6" y1="169.6" x2="253.6" y2="167.1" stroke-width="0.56" stroke-opacity="0.62"/><line x1="255.8" y1="169.1" x2="255.8" y2="165.8" stroke-width="0.75" stroke-opacity="0.64"/><line x1="258.7" y1="170.0" x2="258.7" y2="165.8" stroke-width="0.82" stroke-opacity="0.86"/><line x1="261.3" y1="170.1" x2="261.3" y2="166.4" stroke-width="0.73" stroke-opacity="0.51"/><line x1="262.7" y1="167.6" x2="262.7" y2="161.5" stroke-width="0.56" stroke-opacity="0.54"/><line x1="264.4" y1="165.4" x2="264.4" y2="161.8" stroke-width="0.61" stroke-opacity="0.56"/><line x1="267.2" y1="161.3" x2="267.2" y2="156.7" stroke-width="0.85" stroke-opacity="0.74"/><line x1="269.9" y1="168.9" x2="269.9" y2="165.0" stroke-width="0.80" stroke-opacity="0.84"/><line x1="271.6" y1="170.1" x2="271.6" y2="167.0" stroke-width="0.78" stroke-opacity="0.68"/><line x1="274.4" y1="170.1" x2="274.4" y2="167.6" stroke-width="0.56" stroke-opacity="0.56"/><line x1="276.6" y1="168.2" x2="276.6" y2="165.3" stroke-width="0.51" stroke-opacity="0.70"/><line x1="278.8" y1="166.7" x2="278.8" y2="162.9" stroke-width="0.45" stroke-opacity="0.84"/><line x1="280.9" y1="166.0" x2="280.9" y2="162.6" stroke-width="0.83" stroke-opacity="0.65"/><line x1="283.0" y1="170.1" x2="283.0" y2="165.8" stroke-width="0.74" stroke-opacity="0.75"/><line x1="284.4" y1="170.1" x2="284.4" y2="166.7" stroke-width="0.87" stroke-opacity="0.63"/><line x1="287.4" y1="169.5" x2="287.4" y2="166.6" stroke-width="0.85" stroke-opacity="0.51"/><line x1="290.0" y1="168.4" x2="290.0" y2="165.7" stroke-width="0.84" stroke-opacity="0.65"/><line x1="292.1" y1="168.9" x2="292.1" y2="165.3" stroke-width="0.54" stroke-opacity="0.67"/><line x1="294.2" y1="168.2" x2="294.2" y2="164.5" stroke-width="0.58" stroke-opacity="0.83"/><line x1="296.2" y1="166.8" x2="296.2" y2="164.3" stroke-width="0.68" stroke-opacity="0.89"/><line x1="298.7" y1="170.1" x2="298.7" y2="165.0" stroke-width="0.59" stroke-opacity="0.62"/><line x1="301.0" y1="170.1" x2="301.0" y2="166.5" stroke-width="0.47" stroke-opacity="0.79"/><line x1="303.8" y1="170.1" x2="303.8" y2="168.1" stroke-width="0.59" stroke-opacity="0.50"/><line x1="305.6" y1="170.1" x2="305.6" y2="164.1" stroke-width="0.75" stroke-opacity="0.82"/><line x1="308.4" y1="170.1" x2="308.4" y2="166.8" stroke-width="0.73" stroke-opacity="0.78"/><line x1="310.8" y1="170.1" x2="310.8" y2="167.7" stroke-width="0.75" stroke-opacity="0.68"/><line x1="313.4" y1="170.1" x2="313.4" y2="167.8" stroke-width="0.47" stroke-opacity="0.81"/><line x1="316.2" y1="168.9" x2="316.2" y2="166.2" stroke-width="0.82" stroke-opacity="0.81"/><line x1="318.5" y1="166.9" x2="318.5" y2="164.3" stroke-width="0.64" stroke-opacity="0.63"/><line x1="320.6" y1="164.9" x2="320.6" y2="160.9" stroke-width="0.47" stroke-opacity="0.73"/><line x1="322.1" y1="164.0" x2="322.1" y2="160.3" stroke-width="0.71" stroke-opacity="0.87"/><line x1="324.2" y1="169.7" x2="324.2" y2="166.9" stroke-width="0.72" stroke-opacity="0.88"/><line x1="327.2" y1="168.7" x2="327.2" y2="165.9" stroke-width="0.50" stroke-opacity="0.76"/><line x1="328.9" y1="169.5" x2="328.9" y2="167.6" stroke-width="0.45" stroke-opacity="0.77"/><line x1="330.5" y1="170.1" x2="330.5" y2="165.7" stroke-width="0.84" stroke-opacity="0.55"/></g>
<rect x="155" y="160.8" width="31.2" height="8.2" fill="#f7c8c8" fill-opacity="0.6"/>
<g stroke="#8a8a8a" stroke-width="1.1">
<line x1="146" y1="60.5" x2="341" y2="60.5"/>
<line x1="146" y1="130.2" x2="341" y2="130.2"/>
</g>
<line x1="154.4" y1="50" x2="154.4" y2="171" stroke="#777" stroke-width="0.9"/>
</svg>
<div style="position:absolute;top:52px;height:7px;font-size:6.6px;line-height:7px;color:#7c7c7c;white-space:nowrap;left:147.30px;">NO2 limit for an hour</div>
<div style="position:absolute;top:122px;height:7px;font-size:6.6px;line-height:7px;color:#7c7c7c;white-space:nowrap;left:147.30px;">NO2 limit for an hour</div>
<div style="position:absolute;top:63px;height:7px;font-size:6.52px;line-height:7px;color:#9a9a9a;white-space:nowrap;left:162.50px;">EU standard only allow 18 annually exceedances</div>
<div style="position:absolute;top:71px;height:7px;font-size:6.52px;line-height:7px;color:#9a9a9a;white-space:nowrap;left:162.50px;">Marlybone has seen 22 exceedances in 3 months of 2019</div>
<div style="position:absolute;top:162px;height:7px;font-size:6.6px;line-height:7px;color:#8a7a7a;white-space:nowrap;left:156.50px;">Minimum</div>
<div style="position:absolute;top:57px;height:7px;font-size:6.4px;line-height:7px;color:#7a7a7a;white-space:nowrap;right:605.70px;">200</div>
<div style="position:absolute;top:80px;height:7px;font-size:6.4px;line-height:7px;color:#7a7a7a;white-space:nowrap;right:605.70px;">100</div>
<div style="position:absolute;top:103px;height:7px;font-size:6.4px;line-height:7px;color:#7a7a7a;white-space:nowrap;right:605.70px;">0</div>
<div style="position:absolute;top:111px;height:7px;font-size:6.4px;line-height:7px;color:#7a7a7a;white-space:nowrap;right:605.70px;">300</div>
<div style="position:absolute;top:127px;height:7px;font-size:6.4px;line-height:7px;color:#7a7a7a;white-space:nowrap;right:605.70px;">200</div>
<div style="position:absolute;top:147px;height:7px;font-size:6.4px;line-height:7px;color:#7a7a7a;white-space:nowrap;right:605.70px;">100</div>
<div style="position:absolute;top:163px;height:7px;font-size:6.4px;line-height:7px;color:#7a7a7a;white-space:nowrap;right:605.70px;">0</div>
<div style="position:absolute;top:175px;height:7px;font-size:6.4px;line-height:7px;color:#7a7a7a;white-space:nowrap;left:9.80px;width:300px;text-align:center;">Jan 1, 18</div>
<div style="position:absolute;top:175px;height:7px;font-size:6.4px;line-height:7px;color:#7a7a7a;white-space:nowrap;left:52.90px;width:300px;text-align:center;">May 1, 18</div>
<div style="position:absolute;top:175px;height:7px;font-size:6.4px;line-height:7px;color:#7a7a7a;white-space:nowrap;left:102.00px;width:300px;text-align:center;">Sep 1, 18</div>
<div style="position:absolute;top:175px;height:7px;font-size:6.4px;line-height:7px;color:#7a7a7a;white-space:nowrap;left:150.40px;width:300px;text-align:center;">Jan 1, 19</div>
<div style="position:absolute;top:187px;height:7px;font-size:6.9px;line-height:7px;color:#3a3a3a;white-space:nowrap;font-weight:bold;left:93.00px;width:300px;text-align:center;transform:scaleX(0.9);transform-origin:50% 0;">Hour of Laqn Timestamp</div>
<div style="position:absolute;left:64.40px;top:75.40px;width:120px;height:10px;line-height:10px;text-align:center;font-size:6.7px;color:#333;white-space:nowrap;-webkit-text-stroke:0.22px #333;transform:rotate(-90deg) scaleX(1.02);">Avg. Bloomsbury N.</div>
<div style="position:absolute;left:63.40px;top:136.20px;width:120px;height:10px;line-height:10px;text-align:center;font-size:6.7px;color:#333;white-space:nowrap;-webkit-text-stroke:0.22px #333;transform:rotate(-90deg) scaleX(0.925);">Avg. Marylebone R..</div>
<svg width="280" height="133" viewBox="348 48 280 133" style="left:348px;top:48px;overflow:hidden;">
<rect x="348" y="48" width="280" height="133" fill="#e9ebeb"/>
<filter id="mn" x="0" y="0" width="100%" height="100%"><feTurbulence type="fractalNoise" baseFrequency="0.55" numOctaves="2" seed="9"/><feColorMatrix type="matrix" values="0 0 0 0 1  0 0 0 0 1  0 0 0 0 1  4 0 0 0 -2.55"/></filter>
<rect x="348" y="48" width="280" height="133" filter="url(#mn)" opacity="0.45"/>
<path d="M441,48 L486,48 L489,70 L487,92 L478,97 L462,93 L452,90 L440,78 L436,62 Z" fill="#dfe4e2"/>
<path d="M368,151 L409,144 L412,181 L372,181 Z" fill="#dfe4e2"/>
<path d="M412,174 L520,176 L520,181 L412,181 Z" fill="#dfe4e2"/>
<path d="M361,63 L372,59 L378,66 L368,74 L362,70 Z" fill="#dfe4e2"/>
<path d="M421,60 L427,58 L429,64 L424,66 Z" fill="#dfe4e2"/>
<path d="M375,80 L385,78 L381,85 Z" fill="#dfe4e2"/>
<path d="M387,80 L391,79 L390,92 L386,91 Z" fill="#dfe4e2"/>
<path d="M372,106 L377,104 L381,110 L374,110 Z" fill="#dfe4e2"/>
<path d="M402,103 L410,102 L413,108 L405,109 Z" fill="#dfe4e2"/>
<path d="M513,83 L521,79 L523,83 L516,88 Z" fill="#dfe4e2"/>
<path d="M525,88 L531,85 L533,90 L527,93 Z" fill="#dfe4e2"/>
<path d="M545,82 L556,84 L555,90 L546,88 Z" fill="#dfe4e2"/>
<path d="M562,104 L568,104 L568,112 L563,112 Z" fill="#dfe4e2"/>
<path d="M505,58 L509,55 L511,58 L507,61 Z" fill="#dfe4e2"/>
<path d="M616,58 L621,54 L623,60 L618,63 Z" fill="#dfe4e2"/>
<g fill="none" stroke="#f9fafa" stroke-width="1.35" stroke-linecap="round" stroke-linejoin="round">
<path d="M348,102.5 L358,101 L370,96.8 L380,100 L389.5,103.2 L398,95 L409,84 L420,78 L428.5,74 L432,68 L435,57 L440,48"/>
<path d="M389.5,103.2 L396,107 L403,111.5"/>
<path d="M597,53 L607,57 L612,67 M607,57 L618,53 L628,48 M613,56 L617,65"/>
<path d="M616,112 L624,115"/>
<path d="M596,147.5 L606,149.5 L617,153.5 L629,160" stroke-width="3.2"/>
</g>
<path d="M442.5,69 L446,71 L451,78 L456,71 L461,66 L463,67 L458,74 L454,81 L456,88 L461,91 L465,93 L463,95 L456,92 L451,86 L448,79 L443,73 Z" fill="#f8f9f9"/>
<ellipse cx="388.3" cy="167.8" rx="4.2" ry="3.3" fill="#f8f9f9"/>
<circle cx="576" cy="62.5" r="1.4" fill="#f8f9f9"/>
<circle cx="466" cy="84" r="1" fill="#f8f9f9"/>
<circle cx="462.5" cy="99.4" r="2.6" fill="#f5c64f"/>
<circle cx="536" cy="100.8" r="2.6" fill="#f5c64f"/>
</svg>
<div style="position:absolute;top:95px;height:7px;font-size:6.7px;line-height:7px;color:#7d7d7d;white-space:nowrap;left:403.60px;">Near a busy street</div>
<div style="position:absolute;top:104px;height:7px;font-size:6.6px;line-height:7px;color:#2c2c2c;white-space:nowrap;left:440.00px;">Marylebone Rd</div>
<div style="position:absolute;top:92px;height:7px;font-size:6.65px;line-height:7px;color:#7d7d7d;white-space:nowrap;left:502.00px;">Resedential area with many parks</div>
<div style="position:absolute;top:105px;height:7px;font-size:6.7px;line-height:7px;color:#2c2c2c;white-space:nowrap;left:518.60px;">Bloomsbury</div>
<svg width="79.02" height="60.66" viewBox="25 18 495 380" preserveAspectRatio="none" style="left:408.99px;top:112.87px;overflow:hidden;">
<defs><filter id="b1" x="-5%" y="-5%" width="110%" height="110%"><feGaussianBlur stdDeviation="4.4"/></filter><linearGradient id="rd" x1="0" y1="0" x2="0" y2="1"><stop offset="0" stop-color="#6e7078"/><stop offset="1" stop-color="#7e8088"/></linearGradient></defs>
<rect x="25" y="18" width="495" height="380" fill="#85878e"/>
<g filter="url(#b1)">
<rect x="0" y="0" width="560" height="420" fill="url(#rd)"/>
<rect x="200" y="0" width="340" height="70" fill="#d3d9d7"/>
<rect x="300" y="20" width="60" height="95" fill="#c7cbc8"/>
<rect x="350" y="40" width="60" height="90" fill="#a9b0ab"/>
<polygon points="0,0 217,0 219,100 216,152 120,163 0,178" fill="#bab4a7"/>
<rect x="25" y="18" width="192" height="14" fill="#d0cdc4"/>
<rect x="32" y="38" width="11" height="18" fill="#7d786f"/>
<rect x="54" y="38" width="11" height="18" fill="#7d786f"/>
<rect x="76" y="38" width="11" height="18" fill="#7d786f"/>
<rect x="98" y="38" width="11" height="18" fill="#7d786f"/>
<rect x="120" y="38" width="11" height="18" fill="#7d786f"/>
<rect x="142" y="38" width="11" height="18" fill="#7d786f"/>
<rect x="164" y="38" width="11" height="18" fill="#7d786f"/>
<rect x="186" y="38" width="11" height="18" fill="#7d786f"/>
<rect x="208" y="38" width="11" height="18" fill="#7d786f"/>
<rect x="32" y="72" width="11" height="22" fill="#7d786f"/>
<rect x="54" y="72" width="11" height="22" fill="#7d786f"/>
<rect x="76" y="72" width="11" height="22" fill="#7d786f"/>
<rect x="98" y="72" width="11" height="22" fill="#7d786f"/>
<rect x="120" y="72" width="11" height="22" fill="#7d786f"/>
<rect x="142" y="72" width="11" height="22" fill="#7d786f"/>
<rect x="164" y="72" width="11" height="22" fill="#7d786f"/>
<rect x="186" y="72" width="11" height="22" fill="#7d786f"/>
<rect x="208" y="72" width="11" height="22" fill="#7d786f"/>
<rect x="32" y="112" width="11" height="24" fill="#7d786f"/>
<rect x="54" y="112" width="11" height="24" fill="#7d786f"/>
<rect x="76" y="112" width="11" height="24" fill="#7d786f"/>
<rect x="98" y="112" width="11" height="24" fill="#7d786f"/>
<rect x="120" y="112" width="11" height="24" fill="#7d786f"/>
<rect x="142" y="112" width="11" height="24" fill="#7d786f"/>
<rect x="164" y="112" width="11" height="24" fill="#7d786f"/>
<rect x="186" y="112" width="11" height="24" fill="#7d786f"/>
<rect x="208" y="112" width="11" height="24" fill="#7d786f"/>
<polygon points="0,178 120,163 216,152 250,160 250,168 0,238" fill="#55534f"/>
<rect x="38" y="176" width="42" height="38" fill="#c9aa3c"/>
<rect x="42" y="196" width="34" height="14" fill="#5a4a30"/>
<rect x="84" y="168" width="30" height="24" fill="#b89a3a"/>
<rect x="166" y="150" width="28" height="20" fill="#c4a43a"/>
<rect x="30" y="150" width="40" height="16" fill="#3f7f9a"/>
<polygon points="0,240 250,165 252,188 0,308" fill="#dedad1"/>
<rect x="104" y="232" width="20" height="28" fill="#a34a52"/>
<rect x="150" y="232" width="36" height="26" fill="#3f4d47"/>
<rect x="76" y="238" width="14" height="30" fill="#5a5550"/>
<rect x="196" y="188" width="22" height="22" fill="#6a5f66"/>
<polygon points="0,308 252,188 258,203 0,345" fill="#9d918b"/>
<polygon points="0,330 120,282 122,288 0,338" fill="#b1524e"/>
<polygon points="28,362 250,214 252,218 30,368" fill="#d5d5d8"/>
<polygon points="150,300 156,300 156,370 150,370" fill="#4a4a50"/>
<polygon points="120,390 250,300 300,230 304,232 256,304 130,398" fill="#5f6067"/>
<ellipse cx="268" cy="92" rx="52" ry="68" fill="#44533a"/>
<ellipse cx="255" cy="70" rx="24" ry="28" fill="#55653f"/>
<ellipse cx="292" cy="120" rx="20" ry="26" fill="#3a4932"/>
<ellipse cx="448" cy="94" rx="68" ry="46" fill="#3f4e34"/>
<ellipse cx="376" cy="84" rx="24" ry="38" fill="#43523a"/>
<ellipse cx="470" cy="80" rx="30" ry="22" fill="#4e5e3c"/>
<ellipse cx="508" cy="120" rx="16" ry="30" fill="#3f4f36"/>
<rect x="398" y="20" width="114" height="24" fill="#c6d4de"/>
<ellipse cx="420" cy="29" rx="13" ry="8" fill="#2f6fb0"/>
<rect x="440" y="24" width="60" height="10" fill="#8fb0cc"/>
<polygon points="395,118 425,118 440,170 452,300 430,398 200,398 250,300 320,210 370,150" fill="#6f7077"/>
<rect x="380" y="122" width="24" height="12" rx="3" fill="#e4e4e6"/>
<rect x="398" y="134" width="26" height="14" rx="3" fill="#d0d0d4"/>
<rect x="352" y="150" width="24" height="14" rx="3" fill="#3d3c44"/>
<rect x="372" y="162" width="30" height="18" rx="3" fill="#e8e8ea"/>
<rect x="402" y="172" width="30" height="22" rx="3" fill="#dcdce0"/>
<rect x="335" y="178" width="26" height="16" rx="3" fill="#45444c"/>
<rect x="356" y="198" width="44" height="26" rx="3" fill="#ececee"/>
<rect x="404" y="200" width="30" height="30" rx="3" fill="#50505a"/>
<rect x="322" y="200" width="24" height="18" rx="3" fill="#d8d8dc"/>
<rect x="298" y="196" width="22" height="16" rx="3" fill="#3a3940"/>
<rect x="250" y="226" width="36" height="24" rx="3" fill="#3f3a44"/>
<rect x="296" y="180" width="20" height="14" rx="3" fill="#b8893a"/>
<rect x="262" y="192" width="24" height="16" rx="3" fill="#5a3a3c"/>
<rect x="310" y="246" width="36" height="28" rx="3" fill="#3b3a44"/>
<rect x="352" y="228" width="40" height="26" rx="3" fill="#c9c9ce"/>
<rect x="398" y="236" width="34" height="36" rx="3" fill="#484852"/>
<rect x="240" y="270" width="32" height="40" rx="3" fill="#3e3d48"/>
<rect x="282" y="276" width="28" height="30" rx="3" fill="#c4c5ca"/>
<rect x="300" y="118" width="22" height="12" rx="3" fill="#484850"/>
<rect x="330" y="130" width="26" height="14" rx="3" fill="#d8d8da"/>
<rect x="318" y="150" width="22" height="14" rx="3" fill="#a03a3a"/>
<rect x="346" y="262" width="36" height="24" rx="3" fill="#e2e2e6"/>
<rect x="196" y="296" width="44" height="56" rx="5" fill="#3c3a46"/>
<rect x="203" y="318" width="30" height="16" fill="#5a5a68"/>
<rect x="234" y="326" width="52" height="52" rx="5" fill="#c6c7cc"/>
<rect x="242" y="340" width="36" height="16" fill="#5d6068"/>
<polygon points="302,290 360,290 358,398 296,398" fill="#ebebee"/>
<rect x="300" y="346" width="46" height="30" fill="#474a52"/>
<polygon points="372,268 432,268 428,316 356,316" fill="#f0f0f0"/>
<rect x="355" y="314" width="72" height="84" fill="#a8372e"/>
<rect x="361" y="322" width="58" height="44" fill="#2c2628"/>
<polygon points="432,150 540,150 540,420 428,420 452,300 442,200" fill="#90929a"/>
<rect x="452" y="154" width="20" height="70" fill="#4d5a4c"/>
<rect x="476" y="170" width="34" height="60" fill="#6e7078"/>
<rect x="446" y="288" width="30" height="22" fill="#3a3a3e"/>
<rect x="452" y="230" width="30" height="40" fill="#a9a4a8"/>
<rect x="500" y="258" width="24" height="74" fill="#5e7a3e"/>
<rect x="478" y="344" width="42" height="54" fill="#c9a83a"/>
<rect x="440" y="340" width="14" height="40" fill="#4a4a50"/>
<rect x="66" y="342" width="14" height="30" fill="#3a3a40"/>
</g>
<filter id="n1" x="0" y="0" width="100%" height="100%"><feTurbulence type="fractalNoise" baseFrequency="0.045" numOctaves="2" seed="3"/><feColorMatrix type="matrix" values="0 0 0 0 0.5  0 0 0 0 0.5  0 0 0 0 0.5  1.6 1.6 0 0 -1.1"/></filter>
<rect x="25" y="18" width="495" height="362" filter="url(#n1)" opacity="0.14"/>
<filter id="n1b" x="0" y="0" width="100%" height="100%"><feTurbulence type="fractalNoise" baseFrequency="0.05" numOctaves="2" seed="11"/><feColorMatrix type="matrix" values="0 0 0 0 0  0 0 0 0 0  0 0 0 0 0  1.6 1.6 0 0 -1.15"/></filter>
<rect x="25" y="18" width="495" height="362" filter="url(#n1b)" opacity="0.18"/>
<rect x="165" y="381" width="212" height="17" fill="#1c1c1e"/>
<rect x="172" y="386" width="30" height="7" fill="#d8d8d8"/>
<rect x="208" y="386" width="16" height="7" fill="#d8d8d8"/>
<rect x="230" y="386" width="78" height="7" fill="#d8d8d8"/>
<rect x="314" y="386" width="18" height="7" fill="#d8d8d8"/>
</svg>
<svg width="78.70" height="58.75" viewBox="25 30 493 368" preserveAspectRatio="none" style="left:516.99px;top:114.79px;overflow:hidden;">
<defs><filter id="b2" x="-5%" y="-5%" width="110%" height="110%"><feGaussianBlur stdDeviation="4.4"/></filter><linearGradient id="sky" x1="0" y1="0" x2="0" y2="1"><stop offset="0" stop-color="#62a0e6"/><stop offset="0.6" stop-color="#b8d4ee"/><stop offset="1" stop-color="#d4e2ec"/></linearGradient></defs>
<rect x="25" y="30" width="493" height="368" fill="#6d7a3c"/>
<g filter="url(#b2)">
<rect x="0" y="0" width="560" height="240" fill="url(#sky)"/>
<polygon points="290,150 330,140 380,135 395,110 410,110 415,130 440,120 455,105 465,125 490,120 500,100 540,100 540,270 290,270" fill="#6a5a48"/>
<rect x="238" y="196" width="50" height="60" fill="#6a5a4a"/>
<ellipse cx="300" cy="110" rx="80" ry="62" fill="#9a8c58" opacity="0.26"/>
<ellipse cx="352" cy="80" rx="50" ry="40" fill="#8a7c48" opacity="0.30"/>
<ellipse cx="250" cy="100" rx="36" ry="30" fill="#a89c60" opacity="0.22"/>
<rect x="268" y="120" width="9" height="140" fill="#5a4a32"/>
<rect x="344" y="130" width="8" height="130" fill="#4e4230"/>
<ellipse cx="90" cy="70" rx="110" ry="62" fill="#5b5a2a"/>
<ellipse cx="70" cy="100" rx="52" ry="34" fill="#7a7832"/>
<ellipse cx="160" cy="50" rx="40" ry="24" fill="#4a4a24"/>
<ellipse cx="40" cy="50" rx="30" ry="30" fill="#77752f"/>
<ellipse cx="62" cy="150" rx="56" ry="46" fill="#5c6a2c"/>
<ellipse cx="100" cy="135" rx="30" ry="22" fill="#77792f"/>
<rect x="28" y="165" width="20" height="120" fill="#4a3a2a"/>
<ellipse cx="78" cy="200" rx="44" ry="66" fill="#506a28"/>
<ellipse cx="110" cy="190" rx="16" ry="40" fill="#9a8f80"/>
<ellipse cx="180" cy="190" rx="58" ry="56" fill="#56662c"/>
<ellipse cx="200" cy="182" rx="28" ry="32" fill="#6f7a36"/>
<ellipse cx="150" cy="160" rx="24" ry="20" fill="#4e5f2a"/>
<ellipse cx="340" cy="208" rx="42" ry="50" fill="#4b5a28"/>
<ellipse cx="470" cy="195" rx="50" ry="58" fill="#4c5626"/>
<ellipse cx="410" cy="218" rx="34" ry="44" fill="#435226"/>
<ellipse cx="500" cy="60" rx="30" ry="44" fill="#3e4424"/>
<ellipse cx="385" cy="175" rx="30" ry="34" fill="#5a5c2c"/>
<ellipse cx="440" cy="160" rx="28" ry="26" fill="#4e5028"/>
<ellipse cx="305" cy="170" rx="18" ry="30" fill="#5f5c34"/>
<ellipse cx="492" cy="205" rx="20" ry="28" fill="#6c6e2c"/>
<rect x="0" y="256" width="560" height="50" fill="#2c4220"/>
<rect x="160" y="268" width="200" height="24" fill="#c4bba6"/>
<rect x="120" y="238" width="66" height="20" fill="#c9b030"/>
<rect x="60" y="262" width="70" height="12" fill="#7d9a3a"/>
<rect x="360" y="290" width="160" height="18" fill="#2c4420"/>
<rect x="400" y="280" width="70" height="12" fill="#8a7a3a"/>
<polygon points="0,300 190,304 105,420 0,420" fill="#569a2c"/>
<polygon points="0,296 190,300 175,318 0,316" fill="#2f5a1c"/>
<polygon points="328,304 540,292 540,420 420,420" fill="#376e22"/>
<polygon points="328,300 540,290 540,322 345,326" fill="#2c5a1c"/>
<polygon points="190,290 328,290 420,420 105,420" fill="#bdb29c"/>
<polygon points="196,288 326,288 350,318 172,318" fill="#dcd5c2"/>
<polygon points="160,345 370,345 400,385 130,385" fill="#afa38d"/>
<rect x="140" y="270" width="12" height="28" fill="#2a2a22"/>
<rect x="232" y="256" width="8" height="22" fill="#2a2a22"/>
<rect x="310" y="262" width="9" height="24" fill="#2a2a22"/>
<rect x="338" y="268" width="12" height="26" fill="#2a2a22"/>
<rect x="100" y="282" width="40" height="10" fill="#2a2a22"/>
<ellipse cx="34" cy="318" rx="10" ry="12" fill="#d8d4c8"/>
</g>
<filter id="n2" x="0" y="0" width="100%" height="100%"><feTurbulence type="fractalNoise" baseFrequency="0.06" numOctaves="2" seed="5"/><feColorMatrix type="matrix" values="0 0 0 0 0.75  0 0 0 0 0.75  0 0 0 0 0.45  1.6 1.6 0 0 -1.1"/></filter>
<rect x="25" y="30" width="493" height="270" filter="url(#n2)" opacity="0.2"/>
<filter id="n2b" x="0" y="0" width="100%" height="100%"><feTurbulence type="fractalNoise" baseFrequency="0.07" numOctaves="2" seed="17"/><feColorMatrix type="matrix" values="0 0 0 0 0.05  0 0 0 0 0.08  0 0 0 0 0  1.6 1.6 0 0 -1.1"/></filter>
<rect x="25" y="90" width="493" height="308" filter="url(#n2b)" opacity="0.3"/>
</svg>
<div style="position:absolute;top:198px;height:12px;font-size:10.9px;line-height:12px;color:#4a4a4a;white-space:nowrap;left:113.60px;">Average Hourly NO2 in Marylebone</div>
<div style="position:absolute;top:210px;height:7px;font-size:6.45px;line-height:7px;color:#868686;white-space:nowrap;letter-spacing:0.135px;left:113.30px;">On average Marlybone has more air pollution, particularly after rush hours</div>
<div style="position:absolute;top:219px;height:7px;font-size:6.45px;line-height:7px;color:#868686;white-space:nowrap;letter-spacing:0.135px;left:113.30px;">due to time lag</div>
<div style="position:absolute;top:218px;height:7px;font-size:6.9px;line-height:7px;color:#3a3a3a;white-space:nowrap;font-weight:bold;left:84.60px;width:300px;text-align:center;transform:scaleX(0.9);transform-origin:50% 0;">Laqn Timestamp</div>
<div style="position:absolute;top:228px;height:7px;font-size:6.6px;line-height:7px;color:#262626;white-space:nowrap;left:114.40px;-webkit-text-stroke:0.15px #262626;">Hour ..</div>
<div style="position:absolute;top:228px;height:7px;font-size:6.6px;line-height:7px;color:#262626;white-space:nowrap;left:1.33px;width:300px;text-align:center;-webkit-text-stroke:0.15px #262626;">Monday</div>
<div style="position:absolute;top:228px;height:7px;font-size:6.6px;line-height:7px;color:#262626;white-space:nowrap;left:33.38px;width:300px;text-align:center;-webkit-text-stroke:0.15px #262626;">Tuesday</div>
<div style="position:absolute;top:228px;height:7px;font-size:6.6px;line-height:7px;color:#262626;white-space:nowrap;left:65.43px;width:300px;text-align:center;-webkit-text-stroke:0.15px #262626;">Wednesd..</div>
<div style="position:absolute;top:228px;height:7px;font-size:6.6px;line-height:7px;color:#262626;white-space:nowrap;left:97.47px;width:300px;text-align:center;-webkit-text-stroke:0.15px #262626;">Thursday</div>
<div style="position:absolute;top:228px;height:7px;font-size:6.6px;line-height:7px;color:#262626;white-space:nowrap;left:129.52px;width:300px;text-align:center;-webkit-text-stroke:0.15px #262626;">Friday</div>
<div style="position:absolute;top:228px;height:7px;font-size:6.6px;line-height:7px;color:#262626;white-space:nowrap;left:161.57px;width:300px;text-align:center;-webkit-text-stroke:0.15px #262626;">Saturday</div>
<div style="position:absolute;top:228px;height:7px;font-size:6.6px;line-height:7px;color:#262626;white-space:nowrap;left:328.00px;-webkit-text-stroke:0.15px #262626;">Su</div>
<div style="position:absolute;left:111px;top:236px;width:225px;height:1px;background:#dedede;"></div>
<svg width="199.50" height="178.60" viewBox="135.3 237.0 199.50 178.60" style="left:135.3px;top:237.0px;overflow:hidden;">
<rect x="135.30" y="237.00" width="226.35" height="191.00" fill="#84c976"/>
<rect x="167.35" y="237.00" width="194.30" height="191.00" fill="#99d688"/>
<rect x="199.40" y="237.00" width="162.25" height="191.00" fill="#90d180"/>
<rect x="231.45" y="237.00" width="130.20" height="191.00" fill="#cbe3c2"/>
<rect x="263.50" y="237.00" width="98.15" height="191.00" fill="#d2e4cb"/>
<rect x="295.55" y="237.00" width="66.10" height="191.00" fill="#fca18f"/>
<rect x="327.60" y="237.00" width="34.05" height="191.00" fill="#f4b1a5"/>
<rect x="135.30" y="247.50" width="226.35" height="180.50" fill="#69b15e"/>
<rect x="167.35" y="247.50" width="194.30" height="180.50" fill="#77be6b"/>
<rect x="199.40" y="247.50" width="162.25" height="180.50" fill="#6db562"/>
<rect x="231.45" y="247.50" width="130.20" height="180.50" fill="#7ec471"/>
<rect x="263.50" y="247.50" width="98.15" height="180.50" fill="#89cc7a"/>
<rect x="295.55" y="247.50" width="66.10" height="180.50" fill="#b2e0a4"/>
<rect x="327.60" y="247.50" width="34.05" height="180.50" fill="#89cc7a"/>
<rect x="135.30" y="258.00" width="226.35" height="170.00" fill="#64ac59"/>
<rect x="167.35" y="258.00" width="194.30" height="170.00" fill="#74bb68"/>
<rect x="199.40" y="258.00" width="162.25" height="170.00" fill="#69b15e"/>
<rect x="231.45" y="258.00" width="130.20" height="170.00" fill="#77bd6a"/>
<rect x="263.50" y="258.00" width="98.15" height="170.00" fill="#81c774"/>
<rect x="295.55" y="258.00" width="66.10" height="170.00" fill="#98d687"/>
<rect x="327.60" y="258.00" width="34.05" height="170.00" fill="#80c673"/>
<rect x="135.30" y="268.50" width="226.35" height="159.50" fill="#65ad5a"/>
<rect x="167.35" y="268.50" width="194.30" height="159.50" fill="#72b966"/>
<rect x="199.40" y="268.50" width="162.25" height="159.50" fill="#6cb461"/>
<rect x="231.45" y="268.50" width="130.20" height="159.50" fill="#72b966"/>
<rect x="263.50" y="268.50" width="98.15" height="159.50" fill="#7fc572"/>
<rect x="295.55" y="268.50" width="66.10" height="159.50" fill="#8ccf7e"/>
<rect x="327.60" y="268.50" width="34.05" height="159.50" fill="#78bf6c"/>
<rect x="135.30" y="279.00" width="226.35" height="149.00" fill="#71b865"/>
<rect x="167.35" y="279.00" width="194.30" height="149.00" fill="#80c673"/>
<rect x="199.40" y="279.00" width="162.25" height="149.00" fill="#78be6b"/>
<rect x="231.45" y="279.00" width="130.20" height="149.00" fill="#7dc370"/>
<rect x="263.50" y="279.00" width="98.15" height="149.00" fill="#86cb78"/>
<rect x="295.55" y="279.00" width="66.10" height="149.00" fill="#88cc79"/>
<rect x="327.60" y="279.00" width="34.05" height="149.00" fill="#6fb764"/>
<rect x="135.30" y="289.50" width="226.35" height="138.50" fill="#90d181"/>
<rect x="167.35" y="289.50" width="194.30" height="138.50" fill="#b7e0aa"/>
<rect x="199.40" y="289.50" width="162.25" height="138.50" fill="#aadd9c"/>
<rect x="231.45" y="289.50" width="130.20" height="138.50" fill="#a4da94"/>
<rect x="263.50" y="289.50" width="98.15" height="138.50" fill="#afdfa2"/>
<rect x="295.55" y="289.50" width="66.10" height="138.50" fill="#9ed88e"/>
<rect x="327.60" y="289.50" width="34.05" height="138.50" fill="#6fb764"/>
<rect x="135.30" y="300.00" width="226.35" height="128.00" fill="#fdafa0"/>
<rect x="167.35" y="300.00" width="194.30" height="128.00" fill="#fca18f"/>
<rect x="199.40" y="300.00" width="162.25" height="128.00" fill="#fb9b86"/>
<rect x="231.45" y="300.00" width="130.20" height="128.00" fill="#fda998"/>
<rect x="263.50" y="300.00" width="98.15" height="128.00" fill="#fda999"/>
<rect x="295.55" y="300.00" width="66.10" height="128.00" fill="#c6e2bd"/>
<rect x="327.60" y="300.00" width="34.05" height="128.00" fill="#6eb663"/>
<rect x="135.30" y="310.50" width="226.35" height="117.50" fill="#fb9882"/>
<rect x="167.35" y="310.50" width="194.30" height="117.50" fill="#f77964"/>
<rect x="199.40" y="310.50" width="162.25" height="117.50" fill="#f98972"/>
<rect x="231.45" y="310.50" width="130.20" height="117.50" fill="#f9846d"/>
<rect x="263.50" y="310.50" width="98.15" height="117.50" fill="#f98972"/>
<rect x="295.55" y="310.50" width="66.10" height="117.50" fill="#feb2a3"/>
<rect x="327.60" y="310.50" width="34.05" height="117.50" fill="#7dc370"/>
<rect x="135.30" y="321.00" width="226.35" height="107.00" fill="#f9846d"/>
<rect x="167.35" y="321.00" width="194.30" height="107.00" fill="#f05d4e"/>
<rect x="199.40" y="321.00" width="162.25" height="107.00" fill="#f5725e"/>
<rect x="231.45" y="321.00" width="130.20" height="107.00" fill="#f5725e"/>
<rect x="263.50" y="321.00" width="98.15" height="107.00" fill="#f5725e"/>
<rect x="295.55" y="321.00" width="66.10" height="107.00" fill="#fca18f"/>
<rect x="327.60" y="321.00" width="34.05" height="107.00" fill="#92d282"/>
<rect x="135.30" y="331.50" width="226.35" height="96.50" fill="#f9856e"/>
<rect x="167.35" y="331.50" width="194.30" height="96.50" fill="#eb4e48"/>
<rect x="199.40" y="331.50" width="162.25" height="96.50" fill="#f15e4e"/>
<rect x="231.45" y="331.50" width="130.20" height="96.50" fill="#f67661"/>
<rect x="263.50" y="331.50" width="98.15" height="96.50" fill="#f16050"/>
<rect x="295.55" y="331.50" width="66.10" height="96.50" fill="#fb9580"/>
<rect x="327.60" y="331.50" width="34.05" height="96.50" fill="#c2dcba"/>
<rect x="135.30" y="342.00" width="226.35" height="86.00" fill="#f8806a"/>
<rect x="167.35" y="342.00" width="194.30" height="86.00" fill="#ea4c47"/>
<rect x="199.40" y="342.00" width="162.25" height="86.00" fill="#f36754"/>
<rect x="231.45" y="342.00" width="130.20" height="86.00" fill="#f36754"/>
<rect x="263.50" y="342.00" width="98.15" height="86.00" fill="#eb4f49"/>
<rect x="295.55" y="342.00" width="66.10" height="86.00" fill="#f87f6a"/>
<rect x="327.60" y="342.00" width="34.05" height="86.00" fill="#d6ceb9"/>
<rect x="135.30" y="352.50" width="226.35" height="75.50" fill="#f67863"/>
<rect x="167.35" y="352.50" width="194.30" height="75.50" fill="#eb4e48"/>
<rect x="199.40" y="352.50" width="162.25" height="75.50" fill="#f67863"/>
<rect x="231.45" y="352.50" width="130.20" height="75.50" fill="#f16050"/>
<rect x="263.50" y="352.50" width="98.15" height="75.50" fill="#e74545"/>
<rect x="295.55" y="352.50" width="66.10" height="75.50" fill="#f8816b"/>
<rect x="327.60" y="352.50" width="34.05" height="75.50" fill="#feb8ab"/>
<rect x="135.30" y="363.00" width="226.35" height="65.00" fill="#f67561"/>
<rect x="167.35" y="363.00" width="194.30" height="65.00" fill="#ea4c47"/>
<rect x="199.40" y="363.00" width="162.25" height="65.00" fill="#ed524a"/>
<rect x="231.45" y="363.00" width="130.20" height="65.00" fill="#eb4e48"/>
<rect x="263.50" y="363.00" width="98.15" height="65.00" fill="#e33e43"/>
<rect x="295.55" y="363.00" width="66.10" height="65.00" fill="#f46d59"/>
<rect x="327.60" y="363.00" width="34.05" height="65.00" fill="#fb9b86"/>
<rect x="135.30" y="373.50" width="226.35" height="54.50" fill="#f36855"/>
<rect x="167.35" y="373.50" width="194.30" height="54.50" fill="#e94946"/>
<rect x="199.40" y="373.50" width="162.25" height="54.50" fill="#e23d43"/>
<rect x="231.45" y="373.50" width="130.20" height="54.50" fill="#e33e43"/>
<rect x="263.50" y="373.50" width="98.15" height="54.50" fill="#da323f"/>
<rect x="295.55" y="373.50" width="66.10" height="54.50" fill="#f46d5a"/>
<rect x="327.60" y="373.50" width="34.05" height="54.50" fill="#fa937d"/>
<rect x="135.30" y="384.00" width="226.35" height="44.00" fill="#f15e4e"/>
<rect x="167.35" y="384.00" width="194.30" height="44.00" fill="#d1273d"/>
<rect x="199.40" y="384.00" width="162.25" height="44.00" fill="#d42a3d"/>
<rect x="231.45" y="384.00" width="130.20" height="44.00" fill="#da323f"/>
<rect x="263.50" y="384.00" width="98.15" height="44.00" fill="#d52b3d"/>
<rect x="295.55" y="384.00" width="66.10" height="44.00" fill="#f87e68"/>
<rect x="327.60" y="384.00" width="34.05" height="44.00" fill="#fa937d"/>
<rect x="135.30" y="394.50" width="226.35" height="33.50" fill="#f46a57"/>
<rect x="167.35" y="394.50" width="194.30" height="33.50" fill="#bf193b"/>
<rect x="199.40" y="394.50" width="162.25" height="33.50" fill="#ba173a"/>
<rect x="231.45" y="394.50" width="130.20" height="33.50" fill="#ca223c"/>
<rect x="263.50" y="394.50" width="98.15" height="33.50" fill="#bf193b"/>
<rect x="295.55" y="394.50" width="66.10" height="33.50" fill="#f56f5b"/>
<rect x="327.60" y="394.50" width="34.05" height="33.50" fill="#fa8b75"/>
<rect x="135.30" y="405.00" width="226.35" height="23.00" fill="#f1604f"/>
<rect x="167.35" y="405.00" width="194.30" height="23.00" fill="#c31c3b"/>
<rect x="199.40" y="405.00" width="162.25" height="23.00" fill="#bd183b"/>
<rect x="231.45" y="405.00" width="130.20" height="23.00" fill="#b2143a"/>
<rect x="263.50" y="405.00" width="98.15" height="23.00" fill="#bc183a"/>
<rect x="295.55" y="405.00" width="66.10" height="23.00" fill="#f46e5a"/>
<rect x="327.60" y="405.00" width="34.05" height="23.00" fill="#fa8b75"/>
<rect x="135.30" y="415.50" width="226.35" height="12.50" fill="#f56f5b"/>
<rect x="167.35" y="415.50" width="194.30" height="12.50" fill="#d82f3e"/>
<rect x="199.40" y="415.50" width="162.25" height="12.50" fill="#d1283d"/>
<rect x="231.45" y="415.50" width="130.20" height="12.50" fill="#ca223c"/>
<rect x="263.50" y="415.50" width="98.15" height="12.50" fill="#d3293d"/>
<rect x="295.55" y="415.50" width="66.10" height="12.50" fill="#f67662"/>
<rect x="327.60" y="415.50" width="34.05" height="12.50" fill="#fa937d"/>
</svg>
<div style="position:absolute;top:239px;height:7px;font-size:6.6px;line-height:7px;color:#262626;white-space:nowrap;left:114.60px;-webkit-text-stroke:0.15px #262626;">0</div>
<div style="position:absolute;top:239px;height:7px;font-size:6.8px;line-height:7px;color:#262626;white-space:nowrap;right:581.85px;">57.27</div>
<div style="position:absolute;top:239px;height:7px;font-size:6.8px;line-height:7px;color:#262626;white-space:nowrap;right:549.80px;">62.63</div>
<div style="position:absolute;top:239px;height:7px;font-size:6.8px;line-height:7px;color:#262626;white-space:nowrap;right:517.75px;">60.43</div>
<div style="position:absolute;top:239px;height:7px;font-size:6.8px;line-height:7px;color:#262626;white-space:nowrap;right:485.70px;">68.90</div>
<div style="position:absolute;top:239px;height:7px;font-size:6.8px;line-height:7px;color:#262626;white-space:nowrap;right:453.65px;">69.36</div>
<div style="position:absolute;top:239px;height:7px;font-size:6.8px;line-height:7px;color:#262626;white-space:nowrap;right:421.60px;">80.30</div>
<div style="position:absolute;top:249px;height:7px;font-size:6.6px;line-height:7px;color:#262626;white-space:nowrap;left:114.60px;-webkit-text-stroke:0.15px #262626;">1</div>
<div style="position:absolute;top:249px;height:7px;font-size:6.8px;line-height:7px;color:#262626;white-space:nowrap;right:581.85px;">48.31</div>
<div style="position:absolute;top:249px;height:7px;font-size:6.8px;line-height:7px;color:#262626;white-space:nowrap;right:549.80px;">53.12</div>
<div style="position:absolute;top:249px;height:7px;font-size:6.8px;line-height:7px;color:#262626;white-space:nowrap;right:517.75px;">49.54</div>
<div style="position:absolute;top:249px;height:7px;font-size:6.8px;line-height:7px;color:#262626;white-space:nowrap;right:485.70px;">55.46</div>
<div style="position:absolute;top:249px;height:7px;font-size:6.8px;line-height:7px;color:#262626;white-space:nowrap;right:453.65px;">58.52</div>
<div style="position:absolute;top:249px;height:7px;font-size:6.8px;line-height:7px;color:#262626;white-space:nowrap;right:421.60px;">67.25</div>
<div style="position:absolute;top:260px;height:7px;font-size:6.6px;line-height:7px;color:#262626;white-space:nowrap;left:114.60px;-webkit-text-stroke:0.15px #262626;">2</div>
<div style="position:absolute;top:260px;height:7px;font-size:6.8px;line-height:7px;color:#262626;white-space:nowrap;right:581.85px;">46.37</div>
<div style="position:absolute;top:260px;height:7px;font-size:6.8px;line-height:7px;color:#262626;white-space:nowrap;right:549.80px;">52.09</div>
<div style="position:absolute;top:260px;height:7px;font-size:6.8px;line-height:7px;color:#262626;white-space:nowrap;right:517.75px;">48.26</div>
<div style="position:absolute;top:260px;height:7px;font-size:6.8px;line-height:7px;color:#262626;white-space:nowrap;right:485.70px;">53.03</div>
<div style="position:absolute;top:260px;height:7px;font-size:6.8px;line-height:7px;color:#262626;white-space:nowrap;right:453.65px;">56.39</div>
<div style="position:absolute;top:260px;height:7px;font-size:6.8px;line-height:7px;color:#262626;white-space:nowrap;right:421.60px;">62.58</div>
<div style="position:absolute;top:270px;height:7px;font-size:6.6px;line-height:7px;color:#262626;white-space:nowrap;left:114.60px;-webkit-text-stroke:0.15px #262626;">3</div>
<div style="position:absolute;top:270px;height:7px;font-size:6.8px;line-height:7px;color:#262626;white-space:nowrap;right:581.85px;">46.48</div>
<div style="position:absolute;top:270px;height:7px;font-size:6.8px;line-height:7px;color:#262626;white-space:nowrap;right:549.80px;">51.41</div>
<div style="position:absolute;top:270px;height:7px;font-size:6.8px;line-height:7px;color:#262626;white-space:nowrap;right:517.75px;">49.21</div>
<div style="position:absolute;top:270px;height:7px;font-size:6.8px;line-height:7px;color:#262626;white-space:nowrap;right:485.70px;">51.43</div>
<div style="position:absolute;top:270px;height:7px;font-size:6.8px;line-height:7px;color:#262626;white-space:nowrap;right:453.65px;">55.74</div>
<div style="position:absolute;top:270px;height:7px;font-size:6.8px;line-height:7px;color:#262626;white-space:nowrap;right:421.60px;">59.57</div>
<div style="position:absolute;top:281px;height:7px;font-size:6.6px;line-height:7px;color:#262626;white-space:nowrap;left:114.60px;-webkit-text-stroke:0.15px #262626;">4</div>
<div style="position:absolute;top:281px;height:7px;font-size:6.8px;line-height:7px;color:#262626;white-space:nowrap;right:581.85px;">51.04</div>
<div style="position:absolute;top:281px;height:7px;font-size:6.8px;line-height:7px;color:#262626;white-space:nowrap;right:549.80px;">55.90</div>
<div style="position:absolute;top:281px;height:7px;font-size:6.8px;line-height:7px;color:#262626;white-space:nowrap;right:517.75px;">53.37</div>
<div style="position:absolute;top:281px;height:7px;font-size:6.8px;line-height:7px;color:#262626;white-space:nowrap;right:485.70px;">54.92</div>
<div style="position:absolute;top:281px;height:7px;font-size:6.8px;line-height:7px;color:#262626;white-space:nowrap;right:453.65px;">57.74</div>
<div style="position:absolute;top:281px;height:7px;font-size:6.8px;line-height:7px;color:#262626;white-space:nowrap;right:421.60px;">58.24</div>
<div style="position:absolute;top:291px;height:7px;font-size:6.6px;line-height:7px;color:#262626;white-space:nowrap;left:114.60px;-webkit-text-stroke:0.15px #262626;">5</div>
<div style="position:absolute;top:291px;height:7px;font-size:6.8px;line-height:7px;color:#262626;white-space:nowrap;right:581.85px;">60.55</div>
<div style="position:absolute;top:291px;height:7px;font-size:6.8px;line-height:7px;color:#262626;white-space:nowrap;right:549.80px;">67.72</div>
<div style="position:absolute;top:291px;height:7px;font-size:6.8px;line-height:7px;color:#262626;white-space:nowrap;right:517.75px;">65.86</div>
<div style="position:absolute;top:291px;height:7px;font-size:6.8px;line-height:7px;color:#262626;white-space:nowrap;right:485.70px;">64.74</div>
<div style="position:absolute;top:291px;height:7px;font-size:6.8px;line-height:7px;color:#262626;white-space:nowrap;right:453.65px;">66.83</div>
<div style="position:absolute;top:291px;height:7px;font-size:6.8px;line-height:7px;color:#262626;white-space:nowrap;right:421.60px;">63.72</div>
<div style="position:absolute;top:302px;height:7px;font-size:6.6px;line-height:7px;color:#262626;white-space:nowrap;left:114.60px;-webkit-text-stroke:0.15px #262626;">6</div>
<div style="position:absolute;top:302px;height:7px;font-size:6.8px;line-height:7px;color:#262626;white-space:nowrap;right:581.85px;">76.36</div>
<div style="position:absolute;top:302px;height:7px;font-size:6.8px;line-height:7px;color:#262626;white-space:nowrap;right:549.80px;">80.21</div>
<div style="position:absolute;top:302px;height:7px;font-size:6.8px;line-height:7px;color:#262626;white-space:nowrap;right:517.75px;">82.07</div>
<div style="position:absolute;top:302px;height:7px;font-size:6.8px;line-height:7px;color:#262626;white-space:nowrap;right:485.70px;">78.09</div>
<div style="position:absolute;top:302px;height:7px;font-size:6.8px;line-height:7px;color:#262626;white-space:nowrap;right:453.65px;">77.96</div>
<div style="position:absolute;top:302px;height:7px;font-size:6.8px;line-height:7px;color:#262626;white-space:nowrap;right:421.60px;">68.63</div>
<div style="position:absolute;top:312px;height:7px;font-size:6.6px;line-height:7px;color:#262626;white-space:nowrap;left:114.60px;-webkit-text-stroke:0.15px #262626;">7</div>
<div style="position:absolute;top:312px;height:7px;font-size:6.8px;line-height:7px;color:#262626;white-space:nowrap;right:581.85px;">82.87</div>
<div style="position:absolute;top:312px;height:7px;font-size:6.8px;line-height:7px;color:#262626;white-space:nowrap;right:549.80px;">90.51</div>
<div style="position:absolute;top:312px;height:7px;font-size:6.8px;line-height:7px;color:#262626;white-space:nowrap;right:517.75px;">86.49</div>
<div style="position:absolute;top:312px;height:7px;font-size:6.8px;line-height:7px;color:#262626;white-space:nowrap;right:485.70px;">87.73</div>
<div style="position:absolute;top:312px;height:7px;font-size:6.8px;line-height:7px;color:#262626;white-space:nowrap;right:453.65px;">86.62</div>
<div style="position:absolute;top:312px;height:7px;font-size:6.8px;line-height:7px;color:#262626;white-space:nowrap;right:421.60px;">75.62</div>
<div style="position:absolute;top:323px;height:7px;font-size:6.6px;line-height:7px;color:#262626;white-space:nowrap;left:114.60px;-webkit-text-stroke:0.15px #262626;">8</div>
<div style="position:absolute;top:323px;height:7px;font-size:6.8px;line-height:7px;color:#262626;white-space:nowrap;right:581.85px;">87.67</div>
<div style="position:absolute;top:323px;height:7px;font-size:6.8px;line-height:7px;color:rgba(255,255,255,.88);white-space:nowrap;right:549.80px;">97.32</div>
<div style="position:absolute;top:323px;height:7px;font-size:6.8px;line-height:7px;color:rgba(255,255,255,.88);white-space:nowrap;right:517.75px;">92.15</div>
<div style="position:absolute;top:323px;height:7px;font-size:6.8px;line-height:7px;color:rgba(255,255,255,.88);white-space:nowrap;right:485.70px;">92.17</div>
<div style="position:absolute;top:323px;height:7px;font-size:6.8px;line-height:7px;color:rgba(255,255,255,.88);white-space:nowrap;right:453.65px;">92.25</div>
<div style="position:absolute;top:323px;height:7px;font-size:6.8px;line-height:7px;color:#262626;white-space:nowrap;right:421.60px;">80.23</div>
<div style="position:absolute;top:333px;height:7px;font-size:6.6px;line-height:7px;color:#262626;white-space:nowrap;left:114.60px;-webkit-text-stroke:0.15px #262626;">9</div>
<div style="position:absolute;top:333px;height:7px;font-size:6.8px;line-height:7px;color:#262626;white-space:nowrap;right:581.85px;">87.56</div>
<div style="position:absolute;top:333px;height:7px;font-size:6.8px;line-height:7px;color:rgba(255,255,255,.88);white-space:nowrap;right:549.80px;">100.45</div>
<div style="position:absolute;top:333px;height:7px;font-size:6.8px;line-height:7px;color:rgba(255,255,255,.88);white-space:nowrap;right:517.75px;">97.07</div>
<div style="position:absolute;top:333px;height:7px;font-size:6.8px;line-height:7px;color:#262626;white-space:nowrap;right:485.70px;">91.28</div>
<div style="position:absolute;top:333px;height:7px;font-size:6.8px;line-height:7px;color:rgba(255,255,255,.88);white-space:nowrap;right:453.65px;">96.52</div>
<div style="position:absolute;top:333px;height:7px;font-size:6.8px;line-height:7px;color:#262626;white-space:nowrap;right:421.60px;">83.48</div>
<div style="position:absolute;top:344px;height:7px;font-size:6.6px;line-height:7px;color:#262626;white-space:nowrap;left:114.60px;-webkit-text-stroke:0.15px #262626;">10</div>
<div style="position:absolute;top:344px;height:7px;font-size:6.8px;line-height:7px;color:#262626;white-space:nowrap;right:581.85px;">88.78</div>
<div style="position:absolute;top:344px;height:7px;font-size:6.8px;line-height:7px;color:rgba(255,255,255,.88);white-space:nowrap;right:549.80px;">100.96</div>
<div style="position:absolute;top:344px;height:7px;font-size:6.8px;line-height:7px;color:rgba(255,255,255,.88);white-space:nowrap;right:517.75px;">94.97</div>
<div style="position:absolute;top:344px;height:7px;font-size:6.8px;line-height:7px;color:rgba(255,255,255,.88);white-space:nowrap;right:485.70px;">94.95</div>
<div style="position:absolute;top:344px;height:7px;font-size:6.8px;line-height:7px;color:rgba(255,255,255,.88);white-space:nowrap;right:453.65px;">100.30</div>
<div style="position:absolute;top:344px;height:7px;font-size:6.8px;line-height:7px;color:#262626;white-space:nowrap;right:421.60px;">88.90</div>
<div style="position:absolute;top:354px;height:7px;font-size:6.6px;line-height:7px;color:#262626;white-space:nowrap;left:114.60px;-webkit-text-stroke:0.15px #262626;">11</div>
<div style="position:absolute;top:354px;height:7px;font-size:6.8px;line-height:7px;color:#262626;white-space:nowrap;right:581.85px;">90.78</div>
<div style="position:absolute;top:354px;height:7px;font-size:6.8px;line-height:7px;color:rgba(255,255,255,.88);white-space:nowrap;right:549.80px;">100.46</div>
<div style="position:absolute;top:354px;height:7px;font-size:6.8px;line-height:7px;color:#262626;white-space:nowrap;right:517.75px;">90.85</div>
<div style="position:absolute;top:354px;height:7px;font-size:6.8px;line-height:7px;color:rgba(255,255,255,.88);white-space:nowrap;right:485.70px;">96.53</div>
<div style="position:absolute;top:354px;height:7px;font-size:6.8px;line-height:7px;color:rgba(255,255,255,.88);white-space:nowrap;right:453.65px;">102.48</div>
<div style="position:absolute;top:354px;height:7px;font-size:6.8px;line-height:7px;color:#262626;white-space:nowrap;right:421.60px;">88.40</div>
<div style="position:absolute;top:365px;height:7px;font-size:6.6px;line-height:7px;color:#262626;white-space:nowrap;left:114.60px;-webkit-text-stroke:0.15px #262626;">12</div>
<div style="position:absolute;top:365px;height:7px;font-size:6.8px;line-height:7px;color:rgba(255,255,255,.88);white-space:nowrap;right:581.85px;">91.43</div>
<div style="position:absolute;top:365px;height:7px;font-size:6.8px;line-height:7px;color:rgba(255,255,255,.88);white-space:nowrap;right:549.80px;">101.01</div>
<div style="position:absolute;top:365px;height:7px;font-size:6.8px;line-height:7px;color:rgba(255,255,255,.88);white-space:nowrap;right:517.75px;">99.53</div>
<div style="position:absolute;top:365px;height:7px;font-size:6.8px;line-height:7px;color:rgba(255,255,255,.88);white-space:nowrap;right:485.70px;">100.54</div>
<div style="position:absolute;top:365px;height:7px;font-size:6.8px;line-height:7px;color:rgba(255,255,255,.88);white-space:nowrap;right:453.65px;">104.17</div>
<div style="position:absolute;top:365px;height:7px;font-size:6.8px;line-height:7px;color:rgba(255,255,255,.88);white-space:nowrap;right:421.60px;">93.53</div>
<div style="position:absolute;top:375px;height:7px;font-size:6.6px;line-height:7px;color:#262626;white-space:nowrap;left:114.60px;-webkit-text-stroke:0.15px #262626;">13</div>
<div style="position:absolute;top:375px;height:7px;font-size:6.8px;line-height:7px;color:rgba(255,255,255,.88);white-space:nowrap;right:581.85px;">94.70</div>
<div style="position:absolute;top:375px;height:7px;font-size:6.8px;line-height:7px;color:rgba(255,255,255,.88);white-space:nowrap;right:549.80px;">101.67</div>
<div style="position:absolute;top:375px;height:7px;font-size:6.8px;line-height:7px;color:rgba(255,255,255,.88);white-space:nowrap;right:517.75px;">104.53</div>
<div style="position:absolute;top:375px;height:7px;font-size:6.8px;line-height:7px;color:rgba(255,255,255,.88);white-space:nowrap;right:485.70px;">104.27</div>
<div style="position:absolute;top:375px;height:7px;font-size:6.8px;line-height:7px;color:rgba(255,255,255,.88);white-space:nowrap;right:453.65px;">107.58</div>
<div style="position:absolute;top:375px;height:7px;font-size:6.8px;line-height:7px;color:rgba(255,255,255,.88);white-space:nowrap;right:421.60px;">93.41</div>
<div style="position:absolute;top:386px;height:7px;font-size:6.6px;line-height:7px;color:#262626;white-space:nowrap;left:114.60px;-webkit-text-stroke:0.15px #262626;">14</div>
<div style="position:absolute;top:386px;height:7px;font-size:6.8px;line-height:7px;color:rgba(255,255,255,.88);white-space:nowrap;right:581.85px;">97.04</div>
<div style="position:absolute;top:386px;height:7px;font-size:6.8px;line-height:7px;color:rgba(255,255,255,.88);white-space:nowrap;right:549.80px;">110.65</div>
<div style="position:absolute;top:386px;height:7px;font-size:6.8px;line-height:7px;color:rgba(255,255,255,.88);white-space:nowrap;right:517.75px;">109.73</div>
<div style="position:absolute;top:386px;height:7px;font-size:6.8px;line-height:7px;color:rgba(255,255,255,.88);white-space:nowrap;right:485.70px;">107.37</div>
<div style="position:absolute;top:386px;height:7px;font-size:6.8px;line-height:7px;color:rgba(255,255,255,.88);white-space:nowrap;right:453.65px;">109.43</div>
<div style="position:absolute;top:386px;height:7px;font-size:6.8px;line-height:7px;color:#262626;white-space:nowrap;right:421.60px;">89.34</div>
<div style="position:absolute;top:396px;height:7px;font-size:6.6px;line-height:7px;color:#262626;white-space:nowrap;left:114.60px;-webkit-text-stroke:0.15px #262626;">15</div>
<div style="position:absolute;top:396px;height:7px;font-size:6.8px;line-height:7px;color:rgba(255,255,255,.88);white-space:nowrap;right:581.85px;">94.25</div>
<div style="position:absolute;top:396px;height:7px;font-size:6.8px;line-height:7px;color:rgba(255,255,255,.88);white-space:nowrap;right:549.80px;">115.68</div>
<div style="position:absolute;top:396px;height:7px;font-size:6.8px;line-height:7px;color:rgba(255,255,255,.88);white-space:nowrap;right:517.75px;">116.98</div>
<div style="position:absolute;top:396px;height:7px;font-size:6.8px;line-height:7px;color:rgba(255,255,255,.88);white-space:nowrap;right:485.70px;">112.43</div>
<div style="position:absolute;top:396px;height:7px;font-size:6.8px;line-height:7px;color:rgba(255,255,255,.88);white-space:nowrap;right:453.65px;">115.69</div>
<div style="position:absolute;top:396px;height:7px;font-size:6.8px;line-height:7px;color:rgba(255,255,255,.88);white-space:nowrap;right:421.60px;">93.09</div>
<div style="position:absolute;top:407px;height:7px;font-size:6.6px;line-height:7px;color:#262626;white-space:nowrap;left:114.60px;-webkit-text-stroke:0.15px #262626;">16</div>
<div style="position:absolute;top:407px;height:7px;font-size:6.8px;line-height:7px;color:rgba(255,255,255,.88);white-space:nowrap;right:581.85px;">96.70</div>
<div style="position:absolute;top:407px;height:7px;font-size:6.8px;line-height:7px;color:rgba(255,255,255,.88);white-space:nowrap;right:549.80px;">114.53</div>
<div style="position:absolute;top:407px;height:7px;font-size:6.8px;line-height:7px;color:rgba(255,255,255,.88);white-space:nowrap;right:517.75px;">116.10</div>
<div style="position:absolute;top:407px;height:7px;font-size:6.8px;line-height:7px;color:rgba(255,255,255,.88);white-space:nowrap;right:485.70px;">118.99</div>
<div style="position:absolute;top:407px;height:7px;font-size:6.8px;line-height:7px;color:rgba(255,255,255,.88);white-space:nowrap;right:453.65px;">116.35</div>
<div style="position:absolute;top:407px;height:7px;font-size:6.8px;line-height:7px;color:rgba(255,255,255,.88);white-space:nowrap;right:421.60px;">93.36</div>
<div style="position:absolute;top:417px;height:7px;font-size:6.6px;line-height:7px;color:#262626;white-space:nowrap;left:114.60px;-webkit-text-stroke:0.15px #262626;">17</div>
<div style="position:absolute;top:417px;height:7px;font-size:6.8px;line-height:7px;color:rgba(255,255,255,.88);white-space:nowrap;right:581.85px;">93.10</div>
<div style="position:absolute;top:417px;height:7px;font-size:6.8px;line-height:7px;color:rgba(255,255,255,.88);white-space:nowrap;right:549.80px;">108.27</div>
<div style="position:absolute;top:417px;height:7px;font-size:6.8px;line-height:7px;color:rgba(255,255,255,.88);white-space:nowrap;right:517.75px;">110.52</div>
<div style="position:absolute;top:417px;height:7px;font-size:6.8px;line-height:7px;color:rgba(255,255,255,.88);white-space:nowrap;right:485.70px;">112.40</div>
<div style="position:absolute;top:417px;height:7px;font-size:6.8px;line-height:7px;color:rgba(255,255,255,.88);white-space:nowrap;right:453.65px;">109.88</div>
<div style="position:absolute;top:417px;height:7px;font-size:6.8px;line-height:7px;color:#262626;white-space:nowrap;right:421.60px;">91.20</div>
<div style="position:absolute;left:336px;top:237px;width:9px;height:180px;background:#fff;border:1px solid #d6d6d6;box-sizing:border-box;"></div>
<div style="position:absolute;left:336px;top:237px;width:9px;height:131.5px;background:#efefef;border:1px solid #d0d0d0;box-sizing:border-box;"></div>
<div style="position:absolute;left:135px;top:417.3px;width:201px;height:4px;background:#c6c6cb;"></div>
<div style="position:absolute;top:189px;height:12px;font-size:10.9px;line-height:12px;color:#4a4a4a;white-space:nowrap;left:350.00px;">Average Hourly NO2 in Bloomsbury</div>
<div style="position:absolute;top:197px;height:7px;font-size:6.4px;line-height:7px;color:#777;white-space:nowrap;right:202.30px;">20.0</div>
<div style="position:absolute;top:197px;height:7px;font-size:6.4px;line-height:7px;color:#777;white-space:nowrap;left:601.00px;">120.0</div>
<div style="position:absolute;left:547.5px;top:197px;width:51px;height:8px;background:linear-gradient(to right,#24693d 0.0%,#256f3d 2.6%,#27763d 5.2%,#2b7c40 7.7%,#308344 10.3%,#398949 12.9%,#428f4d 15.5%,#49964f 18.1%,#519c51 20.6%,#59a253 23.2%,#61a956 25.8%,#67af5c 28.4%,#6eb663 30.9%,#75bc69 33.5%,#7dc370 36.1%,#85ca77 38.7%,#8ed07f 41.3%,#98d687 43.8%,#a5db96 46.4%,#b3e0a6 49.0%,#ffbeb2 51.0%,#feb4a6 53.6%,#fdab9b 56.2%,#fca290 58.7%,#fb9984 61.3%,#fa8f79 63.9%,#f9856e 66.5%,#f77b66 69.1%,#f5715d 71.6%,#f36754 74.2%,#f05c4d 76.8%,#ec5049 79.4%,#e74545 81.9%,#e13b42 84.5%,#da323f 87.1%,#d3293d 89.7%,#ca223c 92.3%,#c11a3b 94.8%,#b8163a 97.4%,#ae123a 100.0%);"></div>
<div style="position:absolute;left:572.5px;top:203.5px;width:1px;height:2px;background:#555;"></div>
<div style="position:absolute;top:209px;height:7px;font-size:6.9px;line-height:7px;color:#3a3a3a;white-space:nowrap;font-weight:bold;left:341.70px;width:300px;text-align:center;transform:scaleX(0.9);transform-origin:50% 0;">Laqn Timestamp</div>
<div style="position:absolute;top:219px;height:7px;font-size:6.6px;line-height:7px;color:#262626;white-space:nowrap;left:350.50px;-webkit-text-stroke:0.15px #262626;">Hour of L..</div>
<div style="position:absolute;top:219px;height:7px;font-size:6.6px;line-height:7px;color:#262626;white-space:nowrap;left:247.75px;width:300px;text-align:center;-webkit-text-stroke:0.15px #262626;">Monday</div>
<div style="position:absolute;top:219px;height:7px;font-size:6.6px;line-height:7px;color:#262626;white-space:nowrap;left:279.25px;width:300px;text-align:center;-webkit-text-stroke:0.15px #262626;">Tuesday</div>
<div style="position:absolute;top:219px;height:7px;font-size:6.6px;line-height:7px;color:#262626;white-space:nowrap;left:310.75px;width:300px;text-align:center;-webkit-text-stroke:0.15px #262626;">Wednes..</div>
<div style="position:absolute;top:219px;height:7px;font-size:6.6px;line-height:7px;color:#262626;white-space:nowrap;left:342.25px;width:300px;text-align:center;-webkit-text-stroke:0.15px #262626;">Thursday</div>
<div style="position:absolute;top:219px;height:7px;font-size:6.6px;line-height:7px;color:#262626;white-space:nowrap;left:373.75px;width:300px;text-align:center;-webkit-text-stroke:0.15px #262626;">Friday</div>
<div style="position:absolute;top:219px;height:7px;font-size:6.6px;line-height:7px;color:#262626;white-space:nowrap;left:405.25px;width:300px;text-align:center;-webkit-text-stroke:0.15px #262626;">Saturday</div>
<div style="position:absolute;top:219px;height:7px;font-size:6.6px;line-height:7px;color:#262626;white-space:nowrap;left:436.75px;width:300px;text-align:center;-webkit-text-stroke:0.15px #262626;">Sunday</div>
<div style="position:absolute;left:348px;top:227px;width:255px;height:1px;background:#dedede;"></div>
<svg width="220.50" height="193.40" viewBox="382.0 227.6 220.50 193.40" style="left:382.0px;top:227.6px;overflow:hidden;">
<rect x="382.00" y="227.60" width="222.50" height="201.50" fill="#318445"/>
<rect x="413.50" y="227.60" width="191.00" height="201.50" fill="#3a8a49"/>
<rect x="445.00" y="227.60" width="159.50" height="201.50" fill="#2f8143"/>
<rect x="476.50" y="227.60" width="128.00" height="201.50" fill="#428f4d"/>
<rect x="508.00" y="227.60" width="96.50" height="201.50" fill="#408d4c"/>
<rect x="539.50" y="227.60" width="65.00" height="201.50" fill="#529d51"/>
<rect x="571.00" y="227.60" width="33.50" height="201.50" fill="#418f4d"/>
<rect x="382.00" y="238.10" width="222.50" height="191.00" fill="#28783e"/>
<rect x="413.50" y="238.10" width="191.00" height="191.00" fill="#2b7c40"/>
<rect x="445.00" y="238.10" width="159.50" height="191.00" fill="#27743d"/>
<rect x="476.50" y="238.10" width="128.00" height="191.00" fill="#2c7e41"/>
<rect x="508.00" y="238.10" width="96.50" height="191.00" fill="#2e8042"/>
<rect x="539.50" y="238.10" width="65.00" height="191.00" fill="#428f4d"/>
<rect x="571.00" y="238.10" width="33.50" height="191.00" fill="#378848"/>
<rect x="382.00" y="248.60" width="222.50" height="180.50" fill="#27753d"/>
<rect x="413.50" y="248.60" width="191.00" height="180.50" fill="#27753d"/>
<rect x="445.00" y="248.60" width="159.50" height="180.50" fill="#256f3d"/>
<rect x="476.50" y="248.60" width="128.00" height="180.50" fill="#2c7d40"/>
<rect x="508.00" y="248.60" width="96.50" height="180.50" fill="#28783e"/>
<rect x="539.50" y="248.60" width="65.00" height="180.50" fill="#378748"/>
<rect x="571.00" y="248.60" width="33.50" height="180.50" fill="#338546"/>
<rect x="382.00" y="259.10" width="222.50" height="170.00" fill="#27753d"/>
<rect x="413.50" y="259.10" width="191.00" height="170.00" fill="#26723d"/>
<rect x="445.00" y="259.10" width="159.50" height="170.00" fill="#256e3d"/>
<rect x="476.50" y="259.10" width="128.00" height="170.00" fill="#2a7a3f"/>
<rect x="508.00" y="259.10" width="96.50" height="170.00" fill="#27763d"/>
<rect x="539.50" y="259.10" width="65.00" height="170.00" fill="#2f8143"/>
<rect x="571.00" y="259.10" width="33.50" height="170.00" fill="#2f8143"/>
<rect x="382.00" y="269.60" width="222.50" height="159.50" fill="#27763d"/>
<rect x="413.50" y="269.60" width="191.00" height="159.50" fill="#27753d"/>
<rect x="445.00" y="269.60" width="159.50" height="159.50" fill="#26743d"/>
<rect x="476.50" y="269.60" width="128.00" height="159.50" fill="#2a7b3f"/>
<rect x="508.00" y="269.60" width="96.50" height="159.50" fill="#29783e"/>
<rect x="539.50" y="269.60" width="65.00" height="159.50" fill="#2e8042"/>
<rect x="571.00" y="269.60" width="33.50" height="159.50" fill="#2b7c40"/>
<rect x="382.00" y="280.10" width="222.50" height="149.00" fill="#308344"/>
<rect x="413.50" y="280.10" width="191.00" height="149.00" fill="#2e8143"/>
<rect x="445.00" y="280.10" width="159.50" height="149.00" fill="#2c7e41"/>
<rect x="476.50" y="280.10" width="128.00" height="149.00" fill="#318445"/>
<rect x="508.00" y="280.10" width="96.50" height="149.00" fill="#308344"/>
<rect x="539.50" y="280.10" width="65.00" height="149.00" fill="#2f8143"/>
<rect x="571.00" y="280.10" width="33.50" height="149.00" fill="#2b7c40"/>
<rect x="382.00" y="290.60" width="222.50" height="138.50" fill="#4a974f"/>
<rect x="413.50" y="290.60" width="191.00" height="138.50" fill="#4a974f"/>
<rect x="445.00" y="290.60" width="159.50" height="138.50" fill="#45924e"/>
<rect x="476.50" y="290.60" width="128.00" height="138.50" fill="#4e9950"/>
<rect x="508.00" y="290.60" width="96.50" height="138.50" fill="#48954f"/>
<rect x="539.50" y="290.60" width="65.00" height="138.50" fill="#398949"/>
<rect x="571.00" y="290.60" width="33.50" height="138.50" fill="#328445"/>
<rect x="382.00" y="301.10" width="222.50" height="128.00" fill="#5fa755"/>
<rect x="413.50" y="301.10" width="191.00" height="128.00" fill="#63ab58"/>
<rect x="445.00" y="301.10" width="159.50" height="128.00" fill="#5ca554"/>
<rect x="476.50" y="301.10" width="128.00" height="128.00" fill="#66ae5b"/>
<rect x="508.00" y="301.10" width="96.50" height="128.00" fill="#5ca554"/>
<rect x="539.50" y="301.10" width="65.00" height="128.00" fill="#45924e"/>
<rect x="571.00" y="301.10" width="33.50" height="128.00" fill="#368748"/>
<rect x="382.00" y="311.60" width="222.50" height="117.50" fill="#63ab58"/>
<rect x="413.50" y="311.60" width="191.00" height="117.50" fill="#67af5c"/>
<rect x="445.00" y="311.60" width="159.50" height="117.50" fill="#67af5c"/>
<rect x="476.50" y="311.60" width="128.00" height="117.50" fill="#6fb764"/>
<rect x="508.00" y="311.60" width="96.50" height="117.50" fill="#62aa57"/>
<rect x="539.50" y="311.60" width="65.00" height="117.50" fill="#48954f"/>
<rect x="571.00" y="311.60" width="33.50" height="117.50" fill="#3b8b4a"/>
<rect x="382.00" y="322.10" width="222.50" height="107.00" fill="#5fa755"/>
<rect x="413.50" y="322.10" width="191.00" height="107.00" fill="#5ea755"/>
<rect x="445.00" y="322.10" width="159.50" height="107.00" fill="#62aa57"/>
<rect x="476.50" y="322.10" width="128.00" height="107.00" fill="#68b05d"/>
<rect x="508.00" y="322.10" width="96.50" height="107.00" fill="#61a956"/>
<rect x="539.50" y="322.10" width="65.00" height="107.00" fill="#43904d"/>
<rect x="571.00" y="322.10" width="33.50" height="107.00" fill="#348646"/>
<rect x="382.00" y="332.60" width="222.50" height="96.50" fill="#56a052"/>
<rect x="413.50" y="332.60" width="191.00" height="96.50" fill="#549e52"/>
<rect x="445.00" y="332.60" width="159.50" height="96.50" fill="#5ba454"/>
<rect x="476.50" y="332.60" width="128.00" height="96.50" fill="#5ca454"/>
<rect x="508.00" y="332.60" width="96.50" height="96.50" fill="#5ba354"/>
<rect x="539.50" y="332.60" width="65.00" height="96.50" fill="#368747"/>
<rect x="571.00" y="332.60" width="33.50" height="96.50" fill="#2e8043"/>
<rect x="382.00" y="343.10" width="222.50" height="86.00" fill="#4e9950"/>
<rect x="413.50" y="343.10" width="191.00" height="86.00" fill="#48954f"/>
<rect x="445.00" y="343.10" width="159.50" height="86.00" fill="#509b51"/>
<rect x="476.50" y="343.10" width="128.00" height="86.00" fill="#509b51"/>
<rect x="508.00" y="343.10" width="96.50" height="86.00" fill="#519c51"/>
<rect x="539.50" y="343.10" width="65.00" height="86.00" fill="#328445"/>
<rect x="571.00" y="343.10" width="33.50" height="86.00" fill="#2e8042"/>
<rect x="382.00" y="353.60" width="222.50" height="75.50" fill="#4a974f"/>
<rect x="413.50" y="353.60" width="191.00" height="75.50" fill="#43904d"/>
<rect x="445.00" y="353.60" width="159.50" height="75.50" fill="#49964f"/>
<rect x="476.50" y="353.60" width="128.00" height="75.50" fill="#4c9950"/>
<rect x="508.00" y="353.60" width="96.50" height="75.50" fill="#48954f"/>
<rect x="539.50" y="353.60" width="65.00" height="75.50" fill="#2f8243"/>
<rect x="571.00" y="353.60" width="33.50" height="75.50" fill="#2c7e41"/>
<rect x="382.00" y="364.10" width="222.50" height="65.00" fill="#49964f"/>
<rect x="413.50" y="364.10" width="191.00" height="65.00" fill="#3c8b4a"/>
<rect x="445.00" y="364.10" width="159.50" height="65.00" fill="#45924e"/>
<rect x="476.50" y="364.10" width="128.00" height="65.00" fill="#48954f"/>
<rect x="508.00" y="364.10" width="96.50" height="65.00" fill="#46934e"/>
<rect x="539.50" y="364.10" width="65.00" height="65.00" fill="#2f8243"/>
<rect x="571.00" y="364.10" width="33.50" height="65.00" fill="#2d7f41"/>
<rect x="382.00" y="374.60" width="222.50" height="54.50" fill="#4b974f"/>
<rect x="413.50" y="374.60" width="191.00" height="54.50" fill="#3e8c4b"/>
<rect x="445.00" y="374.60" width="159.50" height="54.50" fill="#45924e"/>
<rect x="476.50" y="374.60" width="128.00" height="54.50" fill="#47944e"/>
<rect x="508.00" y="374.60" width="96.50" height="54.50" fill="#45924e"/>
<rect x="539.50" y="374.60" width="65.00" height="54.50" fill="#2f8244"/>
<rect x="571.00" y="374.60" width="33.50" height="54.50" fill="#2e8042"/>
<rect x="382.00" y="385.10" width="222.50" height="44.00" fill="#4e9a50"/>
<rect x="413.50" y="385.10" width="191.00" height="44.00" fill="#45924e"/>
<rect x="445.00" y="385.10" width="159.50" height="44.00" fill="#4f9a50"/>
<rect x="476.50" y="385.10" width="128.00" height="44.00" fill="#519c51"/>
<rect x="508.00" y="385.10" width="96.50" height="44.00" fill="#4f9a50"/>
<rect x="539.50" y="385.10" width="65.00" height="44.00" fill="#378848"/>
<rect x="571.00" y="385.10" width="33.50" height="44.00" fill="#368748"/>
<rect x="382.00" y="395.60" width="222.50" height="33.50" fill="#56a052"/>
<rect x="413.50" y="395.60" width="191.00" height="33.50" fill="#4d9950"/>
<rect x="445.00" y="395.60" width="159.50" height="33.50" fill="#5aa353"/>
<rect x="476.50" y="395.60" width="128.00" height="33.50" fill="#5ba454"/>
<rect x="508.00" y="395.60" width="96.50" height="33.50" fill="#539e52"/>
<rect x="539.50" y="395.60" width="65.00" height="33.50" fill="#428f4d"/>
<rect x="571.00" y="395.60" width="33.50" height="33.50" fill="#3e8d4b"/>
<rect x="382.00" y="406.10" width="222.50" height="23.00" fill="#5ba354"/>
<rect x="413.50" y="406.10" width="191.00" height="23.00" fill="#4f9b51"/>
<rect x="445.00" y="406.10" width="159.50" height="23.00" fill="#60a856"/>
<rect x="476.50" y="406.10" width="128.00" height="23.00" fill="#66ae5b"/>
<rect x="508.00" y="406.10" width="96.50" height="23.00" fill="#60a856"/>
<rect x="539.50" y="406.10" width="65.00" height="23.00" fill="#4a974f"/>
<rect x="571.00" y="406.10" width="33.50" height="23.00" fill="#4e9a50"/>
<rect x="382.00" y="416.60" width="222.50" height="12.50" fill="#63ab58"/>
<rect x="413.50" y="416.60" width="191.00" height="12.50" fill="#559f52"/>
<rect x="445.00" y="416.60" width="159.50" height="12.50" fill="#64ac59"/>
<rect x="476.50" y="416.60" width="128.00" height="12.50" fill="#67af5c"/>
<rect x="508.00" y="416.60" width="96.50" height="12.50" fill="#63ab58"/>
<rect x="539.50" y="416.60" width="65.00" height="12.50" fill="#549e52"/>
<rect x="571.00" y="416.60" width="33.50" height="12.50" fill="#549f52"/>
</svg>
<div style="position:absolute;top:229px;height:7px;font-size:6.6px;line-height:7px;color:#262626;white-space:nowrap;left:351.00px;-webkit-text-stroke:0.15px #262626;">0</div>
<div style="position:absolute;top:229px;height:7px;font-size:6.8px;line-height:7px;color:rgba(255,255,255,.88);white-space:nowrap;right:335.70px;">30.30</div>
<div style="position:absolute;top:229px;height:7px;font-size:6.8px;line-height:7px;color:rgba(255,255,255,.88);white-space:nowrap;right:304.20px;">32.75</div>
<div style="position:absolute;top:229px;height:7px;font-size:6.8px;line-height:7px;color:rgba(255,255,255,.88);white-space:nowrap;right:272.70px;">29.29</div>
<div style="position:absolute;top:229px;height:7px;font-size:6.8px;line-height:7px;color:rgba(255,255,255,.88);white-space:nowrap;right:241.20px;">34.89</div>
<div style="position:absolute;top:229px;height:7px;font-size:6.8px;line-height:7px;color:rgba(255,255,255,.88);white-space:nowrap;right:209.70px;">34.35</div>
<div style="position:absolute;top:229px;height:7px;font-size:6.8px;line-height:7px;color:rgba(255,255,255,.88);white-space:nowrap;right:178.20px;">40.34</div>
<div style="position:absolute;top:229px;height:7px;font-size:6.8px;line-height:7px;color:rgba(255,255,255,.88);white-space:nowrap;right:146.70px;">34.85</div>
<div style="position:absolute;top:240px;height:7px;font-size:6.6px;line-height:7px;color:#262626;white-space:nowrap;left:351.00px;-webkit-text-stroke:0.15px #262626;">1</div>
<div style="position:absolute;top:240px;height:7px;font-size:6.8px;line-height:7px;color:rgba(255,255,255,.88);white-space:nowrap;right:335.70px;">25.73</div>
<div style="position:absolute;top:240px;height:7px;font-size:6.8px;line-height:7px;color:rgba(255,255,255,.88);white-space:nowrap;right:304.20px;">27.46</div>
<div style="position:absolute;top:240px;height:7px;font-size:6.8px;line-height:7px;color:rgba(255,255,255,.88);white-space:nowrap;right:272.70px;">24.40</div>
<div style="position:absolute;top:240px;height:7px;font-size:6.8px;line-height:7px;color:rgba(255,255,255,.88);white-space:nowrap;right:241.20px;">28.11</div>
<div style="position:absolute;top:240px;height:7px;font-size:6.8px;line-height:7px;color:rgba(255,255,255,.88);white-space:nowrap;right:209.70px;">28.88</div>
<div style="position:absolute;top:240px;height:7px;font-size:6.8px;line-height:7px;color:rgba(255,255,255,.88);white-space:nowrap;right:178.20px;">34.92</div>
<div style="position:absolute;top:240px;height:7px;font-size:6.8px;line-height:7px;color:rgba(255,255,255,.88);white-space:nowrap;right:146.70px;">32.07</div>
<div style="position:absolute;top:250px;height:7px;font-size:6.6px;line-height:7px;color:#262626;white-space:nowrap;left:351.00px;-webkit-text-stroke:0.15px #262626;">2</div>
<div style="position:absolute;top:250px;height:7px;font-size:6.8px;line-height:7px;color:rgba(255,255,255,.88);white-space:nowrap;right:335.70px;">24.55</div>
<div style="position:absolute;top:250px;height:7px;font-size:6.8px;line-height:7px;color:rgba(255,255,255,.88);white-space:nowrap;right:304.20px;">24.78</div>
<div style="position:absolute;top:250px;height:7px;font-size:6.8px;line-height:7px;color:rgba(255,255,255,.88);white-space:nowrap;right:272.70px;">22.53</div>
<div style="position:absolute;top:250px;height:7px;font-size:6.8px;line-height:7px;color:rgba(255,255,255,.88);white-space:nowrap;right:241.20px;">27.78</div>
<div style="position:absolute;top:250px;height:7px;font-size:6.8px;line-height:7px;color:rgba(255,255,255,.88);white-space:nowrap;right:209.70px;">25.88</div>
<div style="position:absolute;top:250px;height:7px;font-size:6.8px;line-height:7px;color:rgba(255,255,255,.88);white-space:nowrap;right:178.20px;">31.84</div>
<div style="position:absolute;top:250px;height:7px;font-size:6.8px;line-height:7px;color:rgba(255,255,255,.88);white-space:nowrap;right:146.70px;">30.83</div>
<div style="position:absolute;top:261px;height:7px;font-size:6.6px;line-height:7px;color:#262626;white-space:nowrap;left:351.00px;-webkit-text-stroke:0.15px #262626;">3</div>
<div style="position:absolute;top:261px;height:7px;font-size:6.8px;line-height:7px;color:rgba(255,255,255,.88);white-space:nowrap;right:335.70px;">24.49</div>
<div style="position:absolute;top:261px;height:7px;font-size:6.8px;line-height:7px;color:rgba(255,255,255,.88);white-space:nowrap;right:304.20px;">23.61</div>
<div style="position:absolute;top:261px;height:7px;font-size:6.8px;line-height:7px;color:rgba(255,255,255,.88);white-space:nowrap;right:272.70px;">22.21</div>
<div style="position:absolute;top:261px;height:7px;font-size:6.8px;line-height:7px;color:rgba(255,255,255,.88);white-space:nowrap;right:241.20px;">26.59</div>
<div style="position:absolute;top:261px;height:7px;font-size:6.8px;line-height:7px;color:rgba(255,255,255,.88);white-space:nowrap;right:209.70px;">24.96</div>
<div style="position:absolute;top:261px;height:7px;font-size:6.8px;line-height:7px;color:rgba(255,255,255,.88);white-space:nowrap;right:178.20px;">29.44</div>
<div style="position:absolute;top:261px;height:7px;font-size:6.8px;line-height:7px;color:rgba(255,255,255,.88);white-space:nowrap;right:146.70px;">29.31</div>
<div style="position:absolute;top:271px;height:7px;font-size:6.6px;line-height:7px;color:#262626;white-space:nowrap;left:351.00px;-webkit-text-stroke:0.15px #262626;">4</div>
<div style="position:absolute;top:271px;height:7px;font-size:6.8px;line-height:7px;color:rgba(255,255,255,.88);white-space:nowrap;right:335.70px;">24.98</div>
<div style="position:absolute;top:271px;height:7px;font-size:6.8px;line-height:7px;color:rgba(255,255,255,.88);white-space:nowrap;right:304.20px;">24.48</div>
<div style="position:absolute;top:271px;height:7px;font-size:6.8px;line-height:7px;color:rgba(255,255,255,.88);white-space:nowrap;right:272.70px;">24.16</div>
<div style="position:absolute;top:271px;height:7px;font-size:6.8px;line-height:7px;color:rgba(255,255,255,.88);white-space:nowrap;right:241.20px;">26.91</div>
<div style="position:absolute;top:271px;height:7px;font-size:6.8px;line-height:7px;color:rgba(255,255,255,.88);white-space:nowrap;right:209.70px;">26.02</div>
<div style="position:absolute;top:271px;height:7px;font-size:6.8px;line-height:7px;color:rgba(255,255,255,.88);white-space:nowrap;right:178.20px;">28.76</div>
<div style="position:absolute;top:271px;height:7px;font-size:6.8px;line-height:7px;color:rgba(255,255,255,.88);white-space:nowrap;right:146.70px;">27.36</div>
<div style="position:absolute;top:282px;height:7px;font-size:6.6px;line-height:7px;color:#262626;white-space:nowrap;left:351.00px;-webkit-text-stroke:0.15px #262626;">5</div>
<div style="position:absolute;top:282px;height:7px;font-size:6.8px;line-height:7px;color:rgba(255,255,255,.88);white-space:nowrap;right:335.70px;">29.97</div>
<div style="position:absolute;top:282px;height:7px;font-size:6.8px;line-height:7px;color:rgba(255,255,255,.88);white-space:nowrap;right:304.20px;">29.24</div>
<div style="position:absolute;top:282px;height:7px;font-size:6.8px;line-height:7px;color:rgba(255,255,255,.88);white-space:nowrap;right:272.70px;">28.19</div>
<div style="position:absolute;top:282px;height:7px;font-size:6.8px;line-height:7px;color:rgba(255,255,255,.88);white-space:nowrap;right:241.20px;">30.28</div>
<div style="position:absolute;top:282px;height:7px;font-size:6.8px;line-height:7px;color:rgba(255,255,255,.88);white-space:nowrap;right:209.70px;">29.89</div>
<div style="position:absolute;top:282px;height:7px;font-size:6.8px;line-height:7px;color:rgba(255,255,255,.88);white-space:nowrap;right:178.20px;">29.39</div>
<div style="position:absolute;top:282px;height:7px;font-size:6.8px;line-height:7px;color:rgba(255,255,255,.88);white-space:nowrap;right:146.70px;">27.62</div>
<div style="position:absolute;top:292px;height:7px;font-size:6.6px;line-height:7px;color:#262626;white-space:nowrap;left:351.00px;-webkit-text-stroke:0.15px #262626;">6</div>
<div style="position:absolute;top:292px;height:7px;font-size:6.8px;line-height:7px;color:rgba(255,255,255,.88);white-space:nowrap;right:335.70px;">37.84</div>
<div style="position:absolute;top:292px;height:7px;font-size:6.8px;line-height:7px;color:rgba(255,255,255,.88);white-space:nowrap;right:304.20px;">37.74</div>
<div style="position:absolute;top:292px;height:7px;font-size:6.8px;line-height:7px;color:rgba(255,255,255,.88);white-space:nowrap;right:272.70px;">35.96</div>
<div style="position:absolute;top:292px;height:7px;font-size:6.8px;line-height:7px;color:rgba(255,255,255,.88);white-space:nowrap;right:241.20px;">38.91</div>
<div style="position:absolute;top:292px;height:7px;font-size:6.8px;line-height:7px;color:rgba(255,255,255,.88);white-space:nowrap;right:209.70px;">37.18</div>
<div style="position:absolute;top:292px;height:7px;font-size:6.8px;line-height:7px;color:rgba(255,255,255,.88);white-space:nowrap;right:178.20px;">32.52</div>
<div style="position:absolute;top:292px;height:7px;font-size:6.8px;line-height:7px;color:rgba(255,255,255,.88);white-space:nowrap;right:146.70px;">30.51</div>
<div style="position:absolute;top:303px;height:7px;font-size:6.6px;line-height:7px;color:#262626;white-space:nowrap;left:351.00px;-webkit-text-stroke:0.15px #262626;">7</div>
<div style="position:absolute;top:303px;height:7px;font-size:6.8px;line-height:7px;color:rgba(255,255,255,.88);white-space:nowrap;right:335.70px;">44.37</div>
<div style="position:absolute;top:303px;height:7px;font-size:6.8px;line-height:7px;color:#262626;white-space:nowrap;right:304.20px;">45.64</div>
<div style="position:absolute;top:303px;height:7px;font-size:6.8px;line-height:7px;color:rgba(255,255,255,.88);white-space:nowrap;right:272.70px;">43.50</div>
<div style="position:absolute;top:303px;height:7px;font-size:6.8px;line-height:7px;color:#262626;white-space:nowrap;right:241.20px;">46.91</div>
<div style="position:absolute;top:303px;height:7px;font-size:6.8px;line-height:7px;color:rgba(255,255,255,.88);white-space:nowrap;right:209.70px;">43.52</div>
<div style="position:absolute;top:303px;height:7px;font-size:6.8px;line-height:7px;color:rgba(255,255,255,.88);white-space:nowrap;right:178.20px;">36.06</div>
<div style="position:absolute;top:303px;height:7px;font-size:6.8px;line-height:7px;color:rgba(255,255,255,.88);white-space:nowrap;right:146.70px;">31.77</div>
<div style="position:absolute;top:313px;height:7px;font-size:6.6px;line-height:7px;color:#262626;white-space:nowrap;left:351.00px;-webkit-text-stroke:0.15px #262626;">8</div>
<div style="position:absolute;top:313px;height:7px;font-size:6.8px;line-height:7px;color:#262626;white-space:nowrap;right:335.70px;">45.89</div>
<div style="position:absolute;top:313px;height:7px;font-size:6.8px;line-height:7px;color:#262626;white-space:nowrap;right:304.20px;">47.34</div>
<div style="position:absolute;top:313px;height:7px;font-size:6.8px;line-height:7px;color:#262626;white-space:nowrap;right:272.70px;">47.48</div>
<div style="position:absolute;top:313px;height:7px;font-size:6.8px;line-height:7px;color:#262626;white-space:nowrap;right:241.20px;">50.37</div>
<div style="position:absolute;top:313px;height:7px;font-size:6.8px;line-height:7px;color:rgba(255,255,255,.88);white-space:nowrap;right:209.70px;">45.38</div>
<div style="position:absolute;top:313px;height:7px;font-size:6.8px;line-height:7px;color:rgba(255,255,255,.88);white-space:nowrap;right:178.20px;">36.98</div>
<div style="position:absolute;top:313px;height:7px;font-size:6.8px;line-height:7px;color:rgba(255,255,255,.88);white-space:nowrap;right:146.70px;">33.16</div>
<div style="position:absolute;top:324px;height:7px;font-size:6.6px;line-height:7px;color:#262626;white-space:nowrap;left:351.00px;-webkit-text-stroke:0.15px #262626;">9</div>
<div style="position:absolute;top:324px;height:7px;font-size:6.8px;line-height:7px;color:rgba(255,255,255,.88);white-space:nowrap;right:335.70px;">44.31</div>
<div style="position:absolute;top:324px;height:7px;font-size:6.8px;line-height:7px;color:rgba(255,255,255,.88);white-space:nowrap;right:304.20px;">44.11</div>
<div style="position:absolute;top:324px;height:7px;font-size:6.8px;line-height:7px;color:#262626;white-space:nowrap;right:272.70px;">45.61</div>
<div style="position:absolute;top:324px;height:7px;font-size:6.8px;line-height:7px;color:#262626;white-space:nowrap;right:241.20px;">47.95</div>
<div style="position:absolute;top:324px;height:7px;font-size:6.8px;line-height:7px;color:rgba(255,255,255,.88);white-space:nowrap;right:209.70px;">44.92</div>
<div style="position:absolute;top:324px;height:7px;font-size:6.8px;line-height:7px;color:rgba(255,255,255,.88);white-space:nowrap;right:178.20px;">35.52</div>
<div style="position:absolute;top:324px;height:7px;font-size:6.8px;line-height:7px;color:rgba(255,255,255,.88);white-space:nowrap;right:146.70px;">31.23</div>
<div style="position:absolute;top:334px;height:7px;font-size:6.6px;line-height:7px;color:#262626;white-space:nowrap;left:351.00px;-webkit-text-stroke:0.15px #262626;">10</div>
<div style="position:absolute;top:334px;height:7px;font-size:6.8px;line-height:7px;color:rgba(255,255,255,.88);white-space:nowrap;right:335.70px;">41.63</div>
<div style="position:absolute;top:334px;height:7px;font-size:6.8px;line-height:7px;color:rgba(255,255,255,.88);white-space:nowrap;right:304.20px;">40.84</div>
<div style="position:absolute;top:334px;height:7px;font-size:6.8px;line-height:7px;color:rgba(255,255,255,.88);white-space:nowrap;right:272.70px;">43.20</div>
<div style="position:absolute;top:334px;height:7px;font-size:6.8px;line-height:7px;color:rgba(255,255,255,.88);white-space:nowrap;right:241.20px;">43.34</div>
<div style="position:absolute;top:334px;height:7px;font-size:6.8px;line-height:7px;color:rgba(255,255,255,.88);white-space:nowrap;right:209.70px;">43.03</div>
<div style="position:absolute;top:334px;height:7px;font-size:6.8px;line-height:7px;color:rgba(255,255,255,.88);white-space:nowrap;right:178.20px;">31.71</div>
<div style="position:absolute;top:334px;height:7px;font-size:6.8px;line-height:7px;color:rgba(255,255,255,.88);white-space:nowrap;right:146.70px;">29.09</div>
<div style="position:absolute;top:345px;height:7px;font-size:6.6px;line-height:7px;color:#262626;white-space:nowrap;left:351.00px;-webkit-text-stroke:0.15px #262626;">11</div>
<div style="position:absolute;top:345px;height:7px;font-size:6.8px;line-height:7px;color:rgba(255,255,255,.88);white-space:nowrap;right:335.70px;">38.91</div>
<div style="position:absolute;top:345px;height:7px;font-size:6.8px;line-height:7px;color:rgba(255,255,255,.88);white-space:nowrap;right:304.20px;">37.26</div>
<div style="position:absolute;top:345px;height:7px;font-size:6.8px;line-height:7px;color:rgba(255,255,255,.88);white-space:nowrap;right:272.70px;">39.76</div>
<div style="position:absolute;top:345px;height:7px;font-size:6.8px;line-height:7px;color:rgba(255,255,255,.88);white-space:nowrap;right:241.20px;">39.69</div>
<div style="position:absolute;top:345px;height:7px;font-size:6.8px;line-height:7px;color:rgba(255,255,255,.88);white-space:nowrap;right:209.70px;">39.96</div>
<div style="position:absolute;top:345px;height:7px;font-size:6.8px;line-height:7px;color:rgba(255,255,255,.88);white-space:nowrap;right:178.20px;">30.59</div>
<div style="position:absolute;top:345px;height:7px;font-size:6.8px;line-height:7px;color:rgba(255,255,255,.88);white-space:nowrap;right:146.70px;">28.97</div>
<div style="position:absolute;top:355px;height:7px;font-size:6.6px;line-height:7px;color:#262626;white-space:nowrap;left:351.00px;-webkit-text-stroke:0.15px #262626;">12</div>
<div style="position:absolute;top:355px;height:7px;font-size:6.8px;line-height:7px;color:rgba(255,255,255,.88);white-space:nowrap;right:335.70px;">37.72</div>
<div style="position:absolute;top:355px;height:7px;font-size:6.8px;line-height:7px;color:rgba(255,255,255,.88);white-space:nowrap;right:304.20px;">35.30</div>
<div style="position:absolute;top:355px;height:7px;font-size:6.8px;line-height:7px;color:rgba(255,255,255,.88);white-space:nowrap;right:272.70px;">37.39</div>
<div style="position:absolute;top:355px;height:7px;font-size:6.8px;line-height:7px;color:rgba(255,255,255,.88);white-space:nowrap;right:241.20px;">38.57</div>
<div style="position:absolute;top:355px;height:7px;font-size:6.8px;line-height:7px;color:rgba(255,255,255,.88);white-space:nowrap;right:209.70px;">37.32</div>
<div style="position:absolute;top:355px;height:7px;font-size:6.8px;line-height:7px;color:rgba(255,255,255,.88);white-space:nowrap;right:178.20px;">29.47</div>
<div style="position:absolute;top:355px;height:7px;font-size:6.8px;line-height:7px;color:rgba(255,255,255,.88);white-space:nowrap;right:146.70px;">28.13</div>
<div style="position:absolute;top:366px;height:7px;font-size:6.6px;line-height:7px;color:#262626;white-space:nowrap;left:351.00px;-webkit-text-stroke:0.15px #262626;">13</div>
<div style="position:absolute;top:366px;height:7px;font-size:6.8px;line-height:7px;color:rgba(255,255,255,.88);white-space:nowrap;right:335.70px;">37.46</div>
<div style="position:absolute;top:366px;height:7px;font-size:6.8px;line-height:7px;color:rgba(255,255,255,.88);white-space:nowrap;right:304.20px;">33.29</div>
<div style="position:absolute;top:366px;height:7px;font-size:6.8px;line-height:7px;color:rgba(255,255,255,.88);white-space:nowrap;right:272.70px;">36.11</div>
<div style="position:absolute;top:366px;height:7px;font-size:6.8px;line-height:7px;color:rgba(255,255,255,.88);white-space:nowrap;right:241.20px;">37.08</div>
<div style="position:absolute;top:366px;height:7px;font-size:6.8px;line-height:7px;color:rgba(255,255,255,.88);white-space:nowrap;right:209.70px;">36.33</div>
<div style="position:absolute;top:366px;height:7px;font-size:6.8px;line-height:7px;color:rgba(255,255,255,.88);white-space:nowrap;right:178.20px;">29.67</div>
<div style="position:absolute;top:366px;height:7px;font-size:6.8px;line-height:7px;color:rgba(255,255,255,.88);white-space:nowrap;right:146.70px;">28.40</div>
<div style="position:absolute;top:376px;height:7px;font-size:6.6px;line-height:7px;color:#262626;white-space:nowrap;left:351.00px;-webkit-text-stroke:0.15px #262626;">14</div>
<div style="position:absolute;top:376px;height:7px;font-size:6.8px;line-height:7px;color:rgba(255,255,255,.88);white-space:nowrap;right:335.70px;">37.98</div>
<div style="position:absolute;top:376px;height:7px;font-size:6.8px;line-height:7px;color:rgba(255,255,255,.88);white-space:nowrap;right:304.20px;">33.94</div>
<div style="position:absolute;top:376px;height:7px;font-size:6.8px;line-height:7px;color:rgba(255,255,255,.88);white-space:nowrap;right:272.70px;">35.98</div>
<div style="position:absolute;top:376px;height:7px;font-size:6.8px;line-height:7px;color:rgba(255,255,255,.88);white-space:nowrap;right:241.20px;">36.85</div>
<div style="position:absolute;top:376px;height:7px;font-size:6.8px;line-height:7px;color:rgba(255,255,255,.88);white-space:nowrap;right:209.70px;">36.03</div>
<div style="position:absolute;top:376px;height:7px;font-size:6.8px;line-height:7px;color:rgba(255,255,255,.88);white-space:nowrap;right:178.20px;">29.69</div>
<div style="position:absolute;top:376px;height:7px;font-size:6.8px;line-height:7px;color:rgba(255,255,255,.88);white-space:nowrap;right:146.70px;">28.96</div>
<div style="position:absolute;top:387px;height:7px;font-size:6.6px;line-height:7px;color:#262626;white-space:nowrap;left:351.00px;-webkit-text-stroke:0.15px #262626;">15</div>
<div style="position:absolute;top:387px;height:7px;font-size:6.8px;line-height:7px;color:rgba(255,255,255,.88);white-space:nowrap;right:335.70px;">39.07</div>
<div style="position:absolute;top:387px;height:7px;font-size:6.8px;line-height:7px;color:rgba(255,255,255,.88);white-space:nowrap;right:304.20px;">36.19</div>
<div style="position:absolute;top:387px;height:7px;font-size:6.8px;line-height:7px;color:rgba(255,255,255,.88);white-space:nowrap;right:272.70px;">39.23</div>
<div style="position:absolute;top:387px;height:7px;font-size:6.8px;line-height:7px;color:rgba(255,255,255,.88);white-space:nowrap;right:241.20px;">40.10</div>
<div style="position:absolute;top:387px;height:7px;font-size:6.8px;line-height:7px;color:rgba(255,255,255,.88);white-space:nowrap;right:209.70px;">39.36</div>
<div style="position:absolute;top:387px;height:7px;font-size:6.8px;line-height:7px;color:rgba(255,255,255,.88);white-space:nowrap;right:178.20px;">32.02</div>
<div style="position:absolute;top:387px;height:7px;font-size:6.8px;line-height:7px;color:rgba(255,255,255,.88);white-space:nowrap;right:146.70px;">31.79</div>
<div style="position:absolute;top:397px;height:7px;font-size:6.6px;line-height:7px;color:#262626;white-space:nowrap;left:351.00px;-webkit-text-stroke:0.15px #262626;">16</div>
<div style="position:absolute;top:397px;height:7px;font-size:6.8px;line-height:7px;color:rgba(255,255,255,.88);white-space:nowrap;right:335.70px;">41.63</div>
<div style="position:absolute;top:397px;height:7px;font-size:6.8px;line-height:7px;color:rgba(255,255,255,.88);white-space:nowrap;right:304.20px;">38.69</div>
<div style="position:absolute;top:397px;height:7px;font-size:6.8px;line-height:7px;color:rgba(255,255,255,.88);white-space:nowrap;right:272.70px;">42.90</div>
<div style="position:absolute;top:397px;height:7px;font-size:6.8px;line-height:7px;color:rgba(255,255,255,.88);white-space:nowrap;right:241.20px;">43.24</div>
<div style="position:absolute;top:397px;height:7px;font-size:6.8px;line-height:7px;color:rgba(255,255,255,.88);white-space:nowrap;right:209.70px;">40.71</div>
<div style="position:absolute;top:397px;height:7px;font-size:6.8px;line-height:7px;color:rgba(255,255,255,.88);white-space:nowrap;right:178.20px;">35.09</div>
<div style="position:absolute;top:397px;height:7px;font-size:6.8px;line-height:7px;color:rgba(255,255,255,.88);white-space:nowrap;right:146.70px;">33.98</div>
<div style="position:absolute;top:408px;height:7px;font-size:6.6px;line-height:7px;color:#262626;white-space:nowrap;left:351.00px;-webkit-text-stroke:0.15px #262626;">17</div>
<div style="position:absolute;top:408px;height:7px;font-size:6.8px;line-height:7px;color:rgba(255,255,255,.88);white-space:nowrap;right:335.70px;">43.03</div>
<div style="position:absolute;top:408px;height:7px;font-size:6.8px;line-height:7px;color:rgba(255,255,255,.88);white-space:nowrap;right:304.20px;">39.38</div>
<div style="position:absolute;top:408px;height:7px;font-size:6.8px;line-height:7px;color:rgba(255,255,255,.88);white-space:nowrap;right:272.70px;">44.76</div>
<div style="position:absolute;top:408px;height:7px;font-size:6.8px;line-height:7px;color:#262626;white-space:nowrap;right:241.20px;">47.25</div>
<div style="position:absolute;top:408px;height:7px;font-size:6.8px;line-height:7px;color:rgba(255,255,255,.88);white-space:nowrap;right:209.70px;">44.68</div>
<div style="position:absolute;top:408px;height:7px;font-size:6.8px;line-height:7px;color:rgba(255,255,255,.88);white-space:nowrap;right:178.20px;">37.86</div>
<div style="position:absolute;top:408px;height:7px;font-size:6.8px;line-height:7px;color:rgba(255,255,255,.88);white-space:nowrap;right:146.70px;">39.00</div>
<div style="position:absolute;top:418px;height:7px;font-size:6.6px;line-height:7px;color:#262626;white-space:nowrap;left:351.00px;-webkit-text-stroke:0.15px #262626;">18</div>
<div style="position:absolute;top:418px;height:7px;font-size:6.8px;line-height:7px;color:#262626;white-space:nowrap;right:335.70px;">45.89</div>
<div style="position:absolute;top:418px;height:7px;font-size:6.8px;line-height:7px;color:rgba(255,255,255,.88);white-space:nowrap;right:304.20px;">41.21</div>
<div style="position:absolute;top:418px;height:7px;font-size:6.8px;line-height:7px;color:#262626;white-space:nowrap;right:272.70px;">46.44</div>
<div style="position:absolute;top:418px;height:7px;font-size:6.8px;line-height:7px;color:#262626;white-space:nowrap;right:241.20px;">47.61</div>
<div style="position:absolute;top:418px;height:7px;font-size:6.8px;line-height:7px;color:#262626;white-space:nowrap;right:209.70px;">45.90</div>
<div style="position:absolute;top:418px;height:7px;font-size:6.8px;line-height:7px;color:rgba(255,255,255,.88);white-space:nowrap;right:178.20px;">41.01</div>
<div style="position:absolute;top:418px;height:7px;font-size:6.8px;line-height:7px;color:rgba(255,255,255,.88);white-space:nowrap;right:146.70px;">41.09</div>
<div style="position:absolute;left:603.5px;top:228px;width:8px;height:195px;background:#fff;border:1px solid #d6d6d6;box-sizing:border-box;"></div>
<div style="position:absolute;left:603.5px;top:228px;width:8px;height:149px;background:#efefef;border:1px solid #d0d0d0;box-sizing:border-box;"></div>
</div></body></html>
